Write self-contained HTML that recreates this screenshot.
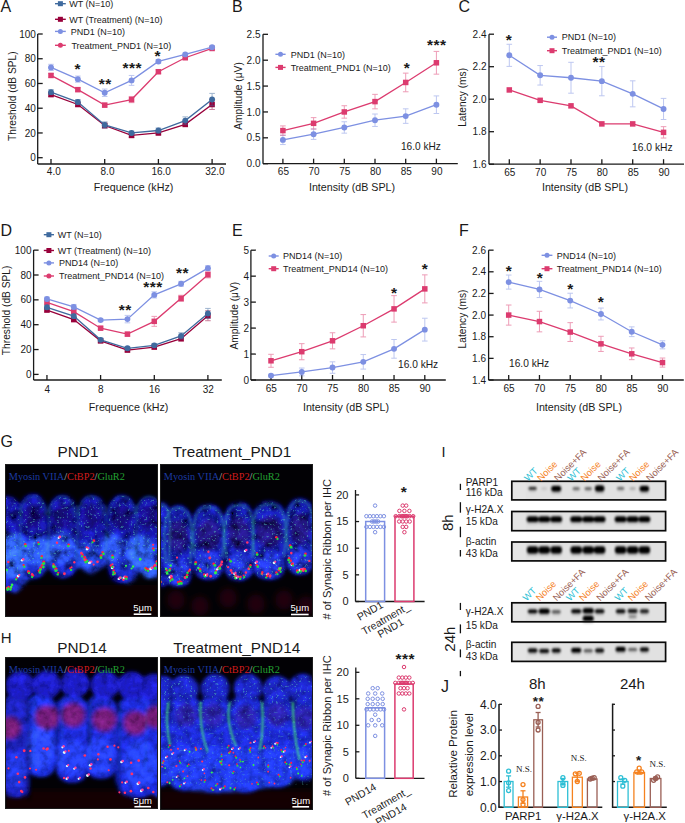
<!DOCTYPE html>
<html><head><meta charset="utf-8"><style>
html,body{margin:0;padding:0;background:#fff;}
svg{display:block;}
svg text{font-family:"Liberation Sans",sans-serif;}
svg text.serif{font-family:"Liberation Serif",serif;}
</style></head><body>
<svg width="685" height="823" viewBox="0 0 685 823">
<defs><filter id="b3" x="-20%" y="-20%" width="140%" height="140%"><feGaussianBlur stdDeviation="3"/></filter><filter id="b2" x="-20%" y="-20%" width="140%" height="140%"><feGaussianBlur stdDeviation="2"/></filter><filter id="b1" x="-20%" y="-20%" width="140%" height="140%"><feGaussianBlur stdDeviation="0.9"/></filter><filter id="b05" x="-50%" y="-50%" width="200%" height="200%"><feGaussianBlur stdDeviation="0.45"/></filter><filter id="tex" filterUnits="userSpaceOnUse" x="0" y="420" width="320" height="403"><feGaussianBlur in="SourceGraphic" stdDeviation="2.2" result="b"/><feTurbulence type="fractalNoise" baseFrequency="0.1" numOctaves="4" seed="5" result="n"/><feColorMatrix in="n" type="matrix" values="1 0 0 0 0  1 0 0 0 0  1 0 0 0 0  0 0 0 0 1" result="g"/><feComposite in="b" in2="g" operator="arithmetic" k1="2.5" k2="-0.25" k3="0" k4="0"/></filter><filter id="tex2" filterUnits="userSpaceOnUse" x="0" y="420" width="320" height="403"><feGaussianBlur in="SourceGraphic" stdDeviation="2.2" result="b"/><feTurbulence type="fractalNoise" baseFrequency="0.12" numOctaves="4" seed="8" result="n"/><feColorMatrix in="n" type="matrix" values="1 0 0 0 0  1 0 0 0 0  1 0 0 0 0  0 0 0 0 1" result="g"/><feComposite in="b" in2="g" operator="arithmetic" k1="1.5" k2="0.28" k3="0" k4="0"/></filter><filter id="speck" filterUnits="userSpaceOnUse" x="0" y="420" width="320" height="403"><feTurbulence type="fractalNoise" baseFrequency="0.42" numOctaves="2" seed="11" result="n"/><feColorMatrix in="n" type="matrix" values="0 0 0 0 0.1  0 0 0 0 0.62  0 0 0 0 0.5  8 0 0 0 -5.0" result="c"/><feComposite in="c" in2="SourceAlpha" operator="in" result="m"/><feGaussianBlur in="m" stdDeviation="0.6"/></filter><filter id="b5" x="-30%" y="-30%" width="160%" height="160%"><feGaussianBlur stdDeviation="5"/></filter><clipPath id="clip1"><rect x="5" y="464" width="153" height="153"/></clipPath><clipPath id="clip2"><rect x="160" y="464" width="153" height="153"/></clipPath><clipPath id="clip3"><rect x="5" y="657" width="153" height="152"/></clipPath><clipPath id="clip4"><rect x="160" y="657" width="153" height="153"/></clipPath></defs>
<rect width="685" height="823" fill="#fff"/>
<g>
<text x="0.50" y="11.80" font-size="16" text-anchor="start" fill="#1a1a1a" >A</text>
<line x1="37.70" y1="34.00" x2="37.70" y2="164.00" stroke="#1a1a1a" stroke-width="1.3" />
<line x1="37.70" y1="164.00" x2="226.00" y2="164.00" stroke="#1a1a1a" stroke-width="1.3" />
<line x1="37.70" y1="157.70" x2="42.70" y2="157.70" stroke="#1a1a1a" stroke-width="1.3" />
<text x="35.90" y="161.30" font-size="10" text-anchor="end" fill="#1a1a1a" >0</text>
<line x1="37.70" y1="132.96" x2="42.70" y2="132.96" stroke="#1a1a1a" stroke-width="1.3" />
<text x="35.90" y="136.56" font-size="10" text-anchor="end" fill="#1a1a1a" >20</text>
<line x1="37.70" y1="108.22" x2="42.70" y2="108.22" stroke="#1a1a1a" stroke-width="1.3" />
<text x="35.90" y="111.82" font-size="10" text-anchor="end" fill="#1a1a1a" >40</text>
<line x1="37.70" y1="83.48" x2="42.70" y2="83.48" stroke="#1a1a1a" stroke-width="1.3" />
<text x="35.90" y="87.08" font-size="10" text-anchor="end" fill="#1a1a1a" >60</text>
<line x1="37.70" y1="58.74" x2="42.70" y2="58.74" stroke="#1a1a1a" stroke-width="1.3" />
<text x="35.90" y="62.34" font-size="10" text-anchor="end" fill="#1a1a1a" >80</text>
<line x1="37.70" y1="34.00" x2="42.70" y2="34.00" stroke="#1a1a1a" stroke-width="1.3" />
<text x="35.90" y="37.60" font-size="10" text-anchor="end" fill="#1a1a1a" >100</text>
<line x1="51.00" y1="164.00" x2="51.00" y2="159.00" stroke="#1a1a1a" stroke-width="1.3" />
<text x="53.80" y="174.80" font-size="10" text-anchor="middle" fill="#1a1a1a" >4.0</text>
<line x1="104.70" y1="164.00" x2="104.70" y2="159.00" stroke="#1a1a1a" stroke-width="1.3" />
<text x="107.50" y="174.80" font-size="10" text-anchor="middle" fill="#1a1a1a" >8.0</text>
<line x1="158.40" y1="164.00" x2="158.40" y2="159.00" stroke="#1a1a1a" stroke-width="1.3" />
<text x="161.20" y="174.80" font-size="10" text-anchor="middle" fill="#1a1a1a" >16.0</text>
<line x1="212.10" y1="164.00" x2="212.10" y2="159.00" stroke="#1a1a1a" stroke-width="1.3" />
<text x="214.90" y="174.80" font-size="10" text-anchor="middle" fill="#1a1a1a" >32.0</text>
<g stroke="#98003a" stroke-width="1.0" opacity="0.5"><line x1="51.00" y1="92.76" x2="51.00" y2="96.47"/><line x1="48.20" y1="92.76" x2="53.80" y2="92.76"/><line x1="48.20" y1="96.47" x2="53.80" y2="96.47"/></g>
<g stroke="#98003a" stroke-width="1.0" opacity="0.5"><line x1="77.85" y1="102.65" x2="77.85" y2="106.36"/><line x1="75.05" y1="102.65" x2="80.65" y2="102.65"/><line x1="75.05" y1="106.36" x2="80.65" y2="106.36"/></g>
<g stroke="#98003a" stroke-width="1.0" opacity="0.5"><line x1="104.70" y1="123.06" x2="104.70" y2="128.01"/><line x1="101.90" y1="123.06" x2="107.50" y2="123.06"/><line x1="101.90" y1="128.01" x2="107.50" y2="128.01"/></g>
<g stroke="#98003a" stroke-width="1.0" opacity="0.5"><line x1="131.55" y1="133.58" x2="131.55" y2="137.29"/><line x1="128.75" y1="133.58" x2="134.35" y2="133.58"/><line x1="128.75" y1="137.29" x2="134.35" y2="137.29"/></g>
<g stroke="#98003a" stroke-width="1.0" opacity="0.5"><line x1="158.40" y1="131.10" x2="158.40" y2="134.82"/><line x1="155.60" y1="131.10" x2="161.20" y2="131.10"/><line x1="155.60" y1="134.82" x2="161.20" y2="134.82"/></g>
<g stroke="#98003a" stroke-width="1.0" opacity="0.5"><line x1="185.25" y1="121.83" x2="185.25" y2="126.77"/><line x1="182.45" y1="121.83" x2="188.05" y2="121.83"/><line x1="182.45" y1="126.77" x2="188.05" y2="126.77"/></g>
<g stroke="#98003a" stroke-width="1.0" opacity="0.5"><line x1="212.10" y1="99.56" x2="212.10" y2="109.46"/><line x1="209.30" y1="99.56" x2="214.90" y2="99.56"/><line x1="209.30" y1="109.46" x2="214.90" y2="109.46"/></g>
<polyline points="51.00,94.61 77.85,104.51 104.70,125.54 131.55,135.43 158.40,132.96 185.25,124.30 212.10,104.51" fill="none" stroke="#98003a" stroke-width="1.3"/>
<rect x="48.25" y="91.86" width="5.5" height="5.5" fill="#98003a"/>
<rect x="75.10" y="101.76" width="5.5" height="5.5" fill="#98003a"/>
<rect x="101.95" y="122.79" width="5.5" height="5.5" fill="#98003a"/>
<rect x="128.80" y="132.68" width="5.5" height="5.5" fill="#98003a"/>
<rect x="155.65" y="130.21" width="5.5" height="5.5" fill="#98003a"/>
<rect x="182.50" y="121.55" width="5.5" height="5.5" fill="#98003a"/>
<rect x="209.35" y="101.76" width="5.5" height="5.5" fill="#98003a"/>
<g stroke="#dc3b6f" stroke-width="1.0" opacity="0.5"><line x1="51.00" y1="73.58" x2="51.00" y2="77.29"/><line x1="48.20" y1="73.58" x2="53.80" y2="73.58"/><line x1="48.20" y1="77.29" x2="53.80" y2="77.29"/></g>
<g stroke="#dc3b6f" stroke-width="1.0" opacity="0.5"><line x1="77.85" y1="87.81" x2="77.85" y2="91.52"/><line x1="75.05" y1="87.81" x2="80.65" y2="87.81"/><line x1="75.05" y1="91.52" x2="80.65" y2="91.52"/></g>
<g stroke="#dc3b6f" stroke-width="1.0" opacity="0.5"><line x1="104.70" y1="103.27" x2="104.70" y2="106.98"/><line x1="101.90" y1="103.27" x2="107.50" y2="103.27"/><line x1="101.90" y1="106.98" x2="107.50" y2="106.98"/></g>
<g stroke="#dc3b6f" stroke-width="1.0" opacity="0.5"><line x1="131.55" y1="96.47" x2="131.55" y2="102.65"/><line x1="128.75" y1="96.47" x2="134.35" y2="96.47"/><line x1="128.75" y1="102.65" x2="134.35" y2="102.65"/></g>
<g stroke="#dc3b6f" stroke-width="1.0" opacity="0.5"><line x1="158.40" y1="69.87" x2="158.40" y2="73.58"/><line x1="155.60" y1="69.87" x2="161.20" y2="69.87"/><line x1="155.60" y1="73.58" x2="161.20" y2="73.58"/></g>
<g stroke="#dc3b6f" stroke-width="1.0" opacity="0.5"><line x1="185.25" y1="56.51" x2="185.25" y2="58.99"/><line x1="182.45" y1="56.51" x2="188.05" y2="56.51"/><line x1="182.45" y1="58.99" x2="188.05" y2="58.99"/></g>
<g stroke="#dc3b6f" stroke-width="1.0" opacity="0.5"><line x1="212.10" y1="47.24" x2="212.10" y2="49.71"/><line x1="209.30" y1="47.24" x2="214.90" y2="47.24"/><line x1="209.30" y1="49.71" x2="214.90" y2="49.71"/></g>
<polyline points="51.00,75.44 77.85,89.66 104.70,105.13 131.55,99.56 158.40,71.73 185.25,57.75 212.10,48.47" fill="none" stroke="#dc3b6f" stroke-width="1.3"/>
<rect x="48.25" y="72.69" width="5.5" height="5.5" fill="#dc3b6f"/>
<rect x="75.10" y="86.91" width="5.5" height="5.5" fill="#dc3b6f"/>
<rect x="101.95" y="102.38" width="5.5" height="5.5" fill="#dc3b6f"/>
<rect x="128.80" y="96.81" width="5.5" height="5.5" fill="#dc3b6f"/>
<rect x="155.65" y="68.98" width="5.5" height="5.5" fill="#dc3b6f"/>
<rect x="182.50" y="55.00" width="5.5" height="5.5" fill="#dc3b6f"/>
<rect x="209.35" y="45.72" width="5.5" height="5.5" fill="#dc3b6f"/>
<g stroke="#3f6a9e" stroke-width="1.0" opacity="0.5"><line x1="51.00" y1="89.66" x2="51.00" y2="94.61"/><line x1="48.20" y1="89.66" x2="53.80" y2="89.66"/><line x1="48.20" y1="94.61" x2="53.80" y2="94.61"/></g>
<g stroke="#3f6a9e" stroke-width="1.0" opacity="0.5"><line x1="77.85" y1="99.56" x2="77.85" y2="104.51"/><line x1="75.05" y1="99.56" x2="80.65" y2="99.56"/><line x1="75.05" y1="104.51" x2="80.65" y2="104.51"/></g>
<g stroke="#3f6a9e" stroke-width="1.0" opacity="0.5"><line x1="104.70" y1="121.83" x2="104.70" y2="128.01"/><line x1="101.90" y1="121.83" x2="107.50" y2="121.83"/><line x1="101.90" y1="128.01" x2="107.50" y2="128.01"/></g>
<g stroke="#3f6a9e" stroke-width="1.0" opacity="0.5"><line x1="131.55" y1="131.10" x2="131.55" y2="134.82"/><line x1="128.75" y1="131.10" x2="134.35" y2="131.10"/><line x1="128.75" y1="134.82" x2="134.35" y2="134.82"/></g>
<g stroke="#3f6a9e" stroke-width="1.0" opacity="0.5"><line x1="158.40" y1="128.01" x2="158.40" y2="132.96"/><line x1="155.60" y1="128.01" x2="161.20" y2="128.01"/><line x1="155.60" y1="132.96" x2="161.20" y2="132.96"/></g>
<g stroke="#3f6a9e" stroke-width="1.0" opacity="0.5"><line x1="185.25" y1="116.88" x2="185.25" y2="124.30"/><line x1="182.45" y1="116.88" x2="188.05" y2="116.88"/><line x1="182.45" y1="124.30" x2="188.05" y2="124.30"/></g>
<g stroke="#3f6a9e" stroke-width="1.0" opacity="0.5"><line x1="212.10" y1="93.38" x2="212.10" y2="105.75"/><line x1="209.30" y1="93.38" x2="214.90" y2="93.38"/><line x1="209.30" y1="105.75" x2="214.90" y2="105.75"/></g>
<polyline points="51.00,92.14 77.85,102.03 104.70,124.92 131.55,132.96 158.40,130.49 185.25,120.59 212.10,99.56" fill="none" stroke="#3f6a9e" stroke-width="1.3"/>
<circle cx="51.00" cy="92.14" r="2.95" fill="#3f6a9e"/>
<circle cx="77.85" cy="102.03" r="2.95" fill="#3f6a9e"/>
<circle cx="104.70" cy="124.92" r="2.95" fill="#3f6a9e"/>
<circle cx="131.55" cy="132.96" r="2.95" fill="#3f6a9e"/>
<circle cx="158.40" cy="130.49" r="2.95" fill="#3f6a9e"/>
<circle cx="185.25" cy="120.59" r="2.95" fill="#3f6a9e"/>
<circle cx="212.10" cy="99.56" r="2.95" fill="#3f6a9e"/>
<g stroke="#7d90e2" stroke-width="1.0" opacity="0.5"><line x1="51.00" y1="64.31" x2="51.00" y2="70.49"/><line x1="48.20" y1="64.31" x2="53.80" y2="64.31"/><line x1="48.20" y1="70.49" x2="53.80" y2="70.49"/></g>
<g stroke="#7d90e2" stroke-width="1.0" opacity="0.5"><line x1="77.85" y1="76.06" x2="77.85" y2="82.24"/><line x1="75.05" y1="76.06" x2="80.65" y2="76.06"/><line x1="75.05" y1="82.24" x2="80.65" y2="82.24"/></g>
<g stroke="#7d90e2" stroke-width="1.0" opacity="0.5"><line x1="104.70" y1="89.05" x2="104.70" y2="96.47"/><line x1="101.90" y1="89.05" x2="107.50" y2="89.05"/><line x1="101.90" y1="96.47" x2="107.50" y2="96.47"/></g>
<g stroke="#7d90e2" stroke-width="1.0" opacity="0.5"><line x1="131.55" y1="75.44" x2="131.55" y2="85.34"/><line x1="128.75" y1="75.44" x2="134.35" y2="75.44"/><line x1="128.75" y1="85.34" x2="134.35" y2="85.34"/></g>
<g stroke="#7d90e2" stroke-width="1.0" opacity="0.5"><line x1="158.40" y1="59.61" x2="158.40" y2="63.32"/><line x1="155.60" y1="59.61" x2="161.20" y2="59.61"/><line x1="155.60" y1="63.32" x2="161.20" y2="63.32"/></g>
<g stroke="#7d90e2" stroke-width="1.0" opacity="0.5"><line x1="185.25" y1="53.17" x2="185.25" y2="55.65"/><line x1="182.45" y1="53.17" x2="188.05" y2="53.17"/><line x1="182.45" y1="55.65" x2="188.05" y2="55.65"/></g>
<g stroke="#7d90e2" stroke-width="1.0" opacity="0.5"><line x1="212.10" y1="46.00" x2="212.10" y2="48.47"/><line x1="209.30" y1="46.00" x2="214.90" y2="46.00"/><line x1="209.30" y1="48.47" x2="214.90" y2="48.47"/></g>
<polyline points="51.00,67.40 77.85,79.15 104.70,92.76 131.55,80.39 158.40,61.46 185.25,54.41 212.10,47.24" fill="none" stroke="#7d90e2" stroke-width="1.3"/>
<circle cx="51.00" cy="67.40" r="2.95" fill="#7d90e2"/>
<circle cx="77.85" cy="79.15" r="2.95" fill="#7d90e2"/>
<circle cx="104.70" cy="92.76" r="2.95" fill="#7d90e2"/>
<circle cx="131.55" cy="80.39" r="2.95" fill="#7d90e2"/>
<circle cx="158.40" cy="61.46" r="2.95" fill="#7d90e2"/>
<circle cx="185.25" cy="54.41" r="2.95" fill="#7d90e2"/>
<circle cx="212.10" cy="47.24" r="2.95" fill="#7d90e2"/>
<line x1="55.00" y1="3.70" x2="65.80" y2="3.70" stroke="#3f6a9e" stroke-width="1.4" />
<rect x="57.90" y="1.20" width="5.0" height="5.0" fill="#3f6a9e"/>
<text x="69.20" y="6.90" font-size="9" text-anchor="start" fill="#1a1a1a" >WT (N=10)</text>
<line x1="55.00" y1="19.30" x2="65.80" y2="19.30" stroke="#98003a" stroke-width="1.4" />
<rect x="57.90" y="16.80" width="5.0" height="5.0" fill="#98003a"/>
<text x="69.20" y="22.50" font-size="9" text-anchor="start" fill="#1a1a1a" >WT (Treatment) (N=10)</text>
<line x1="55.00" y1="31.40" x2="65.80" y2="31.40" stroke="#7d90e2" stroke-width="1.4" />
<circle cx="60.40" cy="31.40" r="2.5" fill="#7d90e2"/>
<text x="70.70" y="34.60" font-size="9" text-anchor="start" fill="#1a1a1a" >PND1 (N=10)</text>
<line x1="55.00" y1="45.30" x2="65.80" y2="45.30" stroke="#dc3b6f" stroke-width="1.4" />
<circle cx="60.40" cy="45.30" r="2.5" fill="#dc3b6f"/>
<text x="71.40" y="48.50" font-size="9" text-anchor="start" fill="#1a1a1a" >Treatment_PND1 (N=10)</text>
<text x="77.80" y="74.46" font-size="15.5" text-anchor="middle" fill="#1a1a1a" letter-spacing="0.5" font-weight="bold">*</text>
<text x="105.30" y="88.56" font-size="15.5" text-anchor="middle" fill="#1a1a1a" letter-spacing="0.5" font-weight="bold">**</text>
<text x="132.30" y="73.26" font-size="15.5" text-anchor="middle" fill="#1a1a1a" letter-spacing="0.5" font-weight="bold">***</text>
<text x="157.80" y="60.76" font-size="15.5" text-anchor="middle" fill="#1a1a1a" letter-spacing="0.5" font-weight="bold">*</text>
<text x="133.50" y="191.10" font-size="10.7" text-anchor="middle" fill="#1a1a1a" >Frequence (kHz)</text>
<text x="0.00" y="0.00" font-size="10.2" text-anchor="middle" fill="#1a1a1a" transform="translate(15.6,96.2) rotate(-90)">Threshold (dB SPL)</text>
</g>
<g>
<text x="232.00" y="11.80" font-size="16" text-anchor="start" fill="#1a1a1a" >B</text>
<line x1="263.00" y1="34.20" x2="263.00" y2="163.70" stroke="#1a1a1a" stroke-width="1.3" />
<line x1="263.00" y1="163.70" x2="457.80" y2="163.70" stroke="#1a1a1a" stroke-width="1.3" />
<line x1="263.00" y1="163.70" x2="268.00" y2="163.70" stroke="#1a1a1a" stroke-width="1.3" />
<text x="260.50" y="167.30" font-size="10" text-anchor="end" fill="#1a1a1a" >0.0</text>
<line x1="263.00" y1="137.82" x2="268.00" y2="137.82" stroke="#1a1a1a" stroke-width="1.3" />
<text x="260.50" y="141.42" font-size="10" text-anchor="end" fill="#1a1a1a" >0.5</text>
<line x1="263.00" y1="111.95" x2="268.00" y2="111.95" stroke="#1a1a1a" stroke-width="1.3" />
<text x="260.50" y="115.55" font-size="10" text-anchor="end" fill="#1a1a1a" >1.0</text>
<line x1="263.00" y1="86.07" x2="268.00" y2="86.07" stroke="#1a1a1a" stroke-width="1.3" />
<text x="260.50" y="89.67" font-size="10" text-anchor="end" fill="#1a1a1a" >1.5</text>
<line x1="263.00" y1="60.20" x2="268.00" y2="60.20" stroke="#1a1a1a" stroke-width="1.3" />
<text x="260.50" y="63.80" font-size="10" text-anchor="end" fill="#1a1a1a" >2.0</text>
<line x1="263.00" y1="34.32" x2="268.00" y2="34.32" stroke="#1a1a1a" stroke-width="1.3" />
<text x="260.50" y="37.92" font-size="10" text-anchor="end" fill="#1a1a1a" >2.5</text>
<line x1="282.90" y1="163.70" x2="282.90" y2="158.70" stroke="#1a1a1a" stroke-width="1.3" />
<text x="283.40" y="175.20" font-size="10" text-anchor="middle" fill="#1a1a1a" >65</text>
<line x1="313.60" y1="163.70" x2="313.60" y2="158.70" stroke="#1a1a1a" stroke-width="1.3" />
<text x="314.10" y="175.20" font-size="10" text-anchor="middle" fill="#1a1a1a" >70</text>
<line x1="344.30" y1="163.70" x2="344.30" y2="158.70" stroke="#1a1a1a" stroke-width="1.3" />
<text x="344.80" y="175.20" font-size="10" text-anchor="middle" fill="#1a1a1a" >75</text>
<line x1="375.00" y1="163.70" x2="375.00" y2="158.70" stroke="#1a1a1a" stroke-width="1.3" />
<text x="375.50" y="175.20" font-size="10" text-anchor="middle" fill="#1a1a1a" >80</text>
<line x1="405.70" y1="163.70" x2="405.70" y2="158.70" stroke="#1a1a1a" stroke-width="1.3" />
<text x="406.20" y="175.20" font-size="10" text-anchor="middle" fill="#1a1a1a" >85</text>
<line x1="436.40" y1="163.70" x2="436.40" y2="158.70" stroke="#1a1a1a" stroke-width="1.3" />
<text x="436.90" y="175.20" font-size="10" text-anchor="middle" fill="#1a1a1a" >90</text>
<g stroke="#7d90e2" stroke-width="1.0" opacity="0.5"><line x1="282.90" y1="135.24" x2="282.90" y2="144.55"/><line x1="280.10" y1="135.24" x2="285.70" y2="135.24"/><line x1="280.10" y1="144.55" x2="285.70" y2="144.55"/></g>
<g stroke="#7d90e2" stroke-width="1.0" opacity="0.5"><line x1="313.60" y1="129.03" x2="313.60" y2="139.38"/><line x1="310.80" y1="129.03" x2="316.40" y2="129.03"/><line x1="310.80" y1="139.38" x2="316.40" y2="139.38"/></g>
<g stroke="#7d90e2" stroke-width="1.0" opacity="0.5"><line x1="344.30" y1="121.78" x2="344.30" y2="133.17"/><line x1="341.50" y1="121.78" x2="347.10" y2="121.78"/><line x1="341.50" y1="133.17" x2="347.10" y2="133.17"/></g>
<g stroke="#7d90e2" stroke-width="1.0" opacity="0.5"><line x1="375.00" y1="114.02" x2="375.00" y2="126.44"/><line x1="372.20" y1="114.02" x2="377.80" y2="114.02"/><line x1="372.20" y1="126.44" x2="377.80" y2="126.44"/></g>
<g stroke="#7d90e2" stroke-width="1.0" opacity="0.5"><line x1="405.70" y1="108.84" x2="405.70" y2="123.33"/><line x1="402.90" y1="108.84" x2="408.50" y2="108.84"/><line x1="402.90" y1="123.33" x2="408.50" y2="123.33"/></g>
<g stroke="#7d90e2" stroke-width="1.0" opacity="0.5"><line x1="436.40" y1="95.91" x2="436.40" y2="113.50"/><line x1="433.60" y1="95.91" x2="439.20" y2="95.91"/><line x1="433.60" y1="113.50" x2="439.20" y2="113.50"/></g>
<polyline points="282.90,139.89 313.60,134.20 344.30,127.47 375.00,120.23 405.70,116.09 436.40,104.70" fill="none" stroke="#7d90e2" stroke-width="1.3"/>
<circle cx="282.90" cy="139.89" r="2.95" fill="#7d90e2"/>
<circle cx="313.60" cy="134.20" r="2.95" fill="#7d90e2"/>
<circle cx="344.30" cy="127.47" r="2.95" fill="#7d90e2"/>
<circle cx="375.00" cy="120.23" r="2.95" fill="#7d90e2"/>
<circle cx="405.70" cy="116.09" r="2.95" fill="#7d90e2"/>
<circle cx="436.40" cy="104.70" r="2.95" fill="#7d90e2"/>
<g stroke="#dc3b6f" stroke-width="1.0" opacity="0.5"><line x1="282.90" y1="125.92" x2="282.90" y2="135.24"/><line x1="280.10" y1="125.92" x2="285.70" y2="125.92"/><line x1="280.10" y1="135.24" x2="285.70" y2="135.24"/></g>
<g stroke="#dc3b6f" stroke-width="1.0" opacity="0.5"><line x1="313.60" y1="117.64" x2="313.60" y2="129.03"/><line x1="310.80" y1="117.64" x2="316.40" y2="117.64"/><line x1="310.80" y1="129.03" x2="316.40" y2="129.03"/></g>
<g stroke="#dc3b6f" stroke-width="1.0" opacity="0.5"><line x1="344.30" y1="105.74" x2="344.30" y2="118.16"/><line x1="341.50" y1="105.74" x2="347.10" y2="105.74"/><line x1="341.50" y1="118.16" x2="347.10" y2="118.16"/></g>
<g stroke="#dc3b6f" stroke-width="1.0" opacity="0.5"><line x1="375.00" y1="94.35" x2="375.00" y2="108.84"/><line x1="372.20" y1="94.35" x2="377.80" y2="94.35"/><line x1="372.20" y1="108.84" x2="377.80" y2="108.84"/></g>
<g stroke="#dc3b6f" stroke-width="1.0" opacity="0.5"><line x1="405.70" y1="73.14" x2="405.70" y2="91.77"/><line x1="402.90" y1="73.14" x2="408.50" y2="73.14"/><line x1="402.90" y1="91.77" x2="408.50" y2="91.77"/></g>
<g stroke="#dc3b6f" stroke-width="1.0" opacity="0.5"><line x1="436.40" y1="51.40" x2="436.40" y2="74.17"/><line x1="433.60" y1="51.40" x2="439.20" y2="51.40"/><line x1="433.60" y1="74.17" x2="439.20" y2="74.17"/></g>
<polyline points="282.90,130.58 313.60,123.33 344.30,111.95 375.00,101.60 405.70,82.45 436.40,62.79" fill="none" stroke="#dc3b6f" stroke-width="1.3"/>
<rect x="280.15" y="127.83" width="5.5" height="5.5" fill="#dc3b6f"/>
<rect x="310.85" y="120.58" width="5.5" height="5.5" fill="#dc3b6f"/>
<rect x="341.55" y="109.20" width="5.5" height="5.5" fill="#dc3b6f"/>
<rect x="372.25" y="98.85" width="5.5" height="5.5" fill="#dc3b6f"/>
<rect x="402.95" y="79.70" width="5.5" height="5.5" fill="#dc3b6f"/>
<rect x="433.65" y="60.04" width="5.5" height="5.5" fill="#dc3b6f"/>
<line x1="275.40" y1="54.30" x2="285.60" y2="54.30" stroke="#7d90e2" stroke-width="1.4" />
<circle cx="280.50" cy="54.30" r="2.5" fill="#7d90e2"/>
<text x="290.70" y="57.50" font-size="9" text-anchor="start" fill="#1a1a1a" >PND1 (N=10)</text>
<line x1="275.40" y1="67.40" x2="285.60" y2="67.40" stroke="#dc3b6f" stroke-width="1.4" />
<rect x="278.00" y="64.90" width="5.0" height="5.0" fill="#dc3b6f"/>
<text x="290.70" y="70.60" font-size="9" text-anchor="start" fill="#1a1a1a" >Treatment_PND1 (N=10)</text>
<text x="407.00" y="73.46" font-size="15.5" text-anchor="middle" fill="#1a1a1a" letter-spacing="0.5" font-weight="bold">*</text>
<text x="436.80" y="49.86" font-size="15.5" text-anchor="middle" fill="#1a1a1a" letter-spacing="0.5" font-weight="bold">***</text>
<text x="401.00" y="150.30" font-size="10.1" text-anchor="start" fill="#1a1a1a" >16.0 kHz</text>
<text x="352.00" y="191.30" font-size="10.7" text-anchor="middle" fill="#1a1a1a" >Intensity (dB SPL)</text>
<text x="0.00" y="0.00" font-size="10.2" text-anchor="middle" fill="#1a1a1a" transform="translate(241.8,96) rotate(-90)">Amplitude (μV)</text>
</g>
<g>
<text x="458.50" y="11.80" font-size="16" text-anchor="start" fill="#1a1a1a" >C</text>
<line x1="489.00" y1="34.20" x2="489.00" y2="164.20" stroke="#1a1a1a" stroke-width="1.3" />
<line x1="489.00" y1="164.20" x2="684.00" y2="164.20" stroke="#1a1a1a" stroke-width="1.3" />
<line x1="489.00" y1="164.20" x2="494.00" y2="164.20" stroke="#1a1a1a" stroke-width="1.3" />
<text x="486.50" y="167.80" font-size="10" text-anchor="end" fill="#1a1a1a" >1.6</text>
<line x1="489.00" y1="131.70" x2="494.00" y2="131.70" stroke="#1a1a1a" stroke-width="1.3" />
<text x="486.50" y="135.30" font-size="10" text-anchor="end" fill="#1a1a1a" >1.8</text>
<line x1="489.00" y1="99.20" x2="494.00" y2="99.20" stroke="#1a1a1a" stroke-width="1.3" />
<text x="486.50" y="102.80" font-size="10" text-anchor="end" fill="#1a1a1a" >2.0</text>
<line x1="489.00" y1="66.70" x2="494.00" y2="66.70" stroke="#1a1a1a" stroke-width="1.3" />
<text x="486.50" y="70.30" font-size="10" text-anchor="end" fill="#1a1a1a" >2.2</text>
<line x1="489.00" y1="34.20" x2="494.00" y2="34.20" stroke="#1a1a1a" stroke-width="1.3" />
<text x="486.50" y="37.80" font-size="10" text-anchor="end" fill="#1a1a1a" >2.4</text>
<line x1="509.30" y1="164.20" x2="509.30" y2="159.20" stroke="#1a1a1a" stroke-width="1.3" />
<text x="509.80" y="176.10" font-size="10" text-anchor="middle" fill="#1a1a1a" >65</text>
<line x1="540.15" y1="164.20" x2="540.15" y2="159.20" stroke="#1a1a1a" stroke-width="1.3" />
<text x="540.65" y="176.10" font-size="10" text-anchor="middle" fill="#1a1a1a" >70</text>
<line x1="571.00" y1="164.20" x2="571.00" y2="159.20" stroke="#1a1a1a" stroke-width="1.3" />
<text x="571.50" y="176.10" font-size="10" text-anchor="middle" fill="#1a1a1a" >75</text>
<line x1="601.85" y1="164.20" x2="601.85" y2="159.20" stroke="#1a1a1a" stroke-width="1.3" />
<text x="602.35" y="176.10" font-size="10" text-anchor="middle" fill="#1a1a1a" >80</text>
<line x1="632.70" y1="164.20" x2="632.70" y2="159.20" stroke="#1a1a1a" stroke-width="1.3" />
<text x="633.20" y="176.10" font-size="10" text-anchor="middle" fill="#1a1a1a" >85</text>
<line x1="663.55" y1="164.20" x2="663.55" y2="159.20" stroke="#1a1a1a" stroke-width="1.3" />
<text x="664.05" y="176.10" font-size="10" text-anchor="middle" fill="#1a1a1a" >90</text>
<g stroke="#7d90e2" stroke-width="1.0" opacity="0.5"><line x1="509.30" y1="44.27" x2="509.30" y2="66.38"/><line x1="506.50" y1="44.27" x2="512.10" y2="44.27"/><line x1="506.50" y1="66.38" x2="512.10" y2="66.38"/></g>
<g stroke="#7d90e2" stroke-width="1.0" opacity="0.5"><line x1="540.15" y1="65.56" x2="540.15" y2="85.06"/><line x1="537.35" y1="65.56" x2="542.95" y2="65.56"/><line x1="537.35" y1="85.06" x2="542.95" y2="85.06"/></g>
<g stroke="#7d90e2" stroke-width="1.0" opacity="0.5"><line x1="571.00" y1="62.31" x2="571.00" y2="93.19"/><line x1="568.20" y1="62.31" x2="573.80" y2="62.31"/><line x1="568.20" y1="93.19" x2="573.80" y2="93.19"/></g>
<g stroke="#7d90e2" stroke-width="1.0" opacity="0.5"><line x1="601.85" y1="66.54" x2="601.85" y2="95.79"/><line x1="599.05" y1="66.54" x2="604.65" y2="66.54"/><line x1="599.05" y1="95.79" x2="604.65" y2="95.79"/></g>
<g stroke="#7d90e2" stroke-width="1.0" opacity="0.5"><line x1="632.70" y1="80.84" x2="632.70" y2="106.84"/><line x1="629.90" y1="80.84" x2="635.50" y2="80.84"/><line x1="629.90" y1="106.84" x2="635.50" y2="106.84"/></g>
<g stroke="#7d90e2" stroke-width="1.0" opacity="0.5"><line x1="663.55" y1="98.39" x2="663.55" y2="119.51"/><line x1="660.75" y1="98.39" x2="666.35" y2="98.39"/><line x1="660.75" y1="119.51" x2="666.35" y2="119.51"/></g>
<polyline points="509.30,55.32 540.15,75.31 571.00,77.75 601.85,81.16 632.70,93.84 663.55,108.95" fill="none" stroke="#7d90e2" stroke-width="1.3"/>
<circle cx="509.30" cy="55.32" r="2.95" fill="#7d90e2"/>
<circle cx="540.15" cy="75.31" r="2.95" fill="#7d90e2"/>
<circle cx="571.00" cy="77.75" r="2.95" fill="#7d90e2"/>
<circle cx="601.85" cy="81.16" r="2.95" fill="#7d90e2"/>
<circle cx="632.70" cy="93.84" r="2.95" fill="#7d90e2"/>
<circle cx="663.55" cy="108.95" r="2.95" fill="#7d90e2"/>
<g stroke="#dc3b6f" stroke-width="1.0" opacity="0.5"><line x1="663.55" y1="126.66" x2="663.55" y2="138.04"/><line x1="660.75" y1="126.66" x2="666.35" y2="126.66"/><line x1="660.75" y1="138.04" x2="666.35" y2="138.04"/></g>
<polyline points="509.30,89.94 540.15,100.34 571.00,105.86 601.85,123.90 632.70,123.90 663.55,132.35" fill="none" stroke="#dc3b6f" stroke-width="1.3"/>
<rect x="506.55" y="87.19" width="5.5" height="5.5" fill="#dc3b6f"/>
<rect x="537.40" y="97.59" width="5.5" height="5.5" fill="#dc3b6f"/>
<rect x="568.25" y="103.11" width="5.5" height="5.5" fill="#dc3b6f"/>
<rect x="599.10" y="121.15" width="5.5" height="5.5" fill="#dc3b6f"/>
<rect x="629.95" y="121.15" width="5.5" height="5.5" fill="#dc3b6f"/>
<rect x="660.80" y="129.60" width="5.5" height="5.5" fill="#dc3b6f"/>
<line x1="547.00" y1="37.20" x2="557.00" y2="37.20" stroke="#7d90e2" stroke-width="1.4" />
<circle cx="552.00" cy="37.20" r="2.5" fill="#7d90e2"/>
<text x="561.80" y="40.40" font-size="9" text-anchor="start" fill="#1a1a1a" >PND1 (N=10)</text>
<line x1="547.00" y1="50.70" x2="557.00" y2="50.70" stroke="#dc3b6f" stroke-width="1.4" />
<rect x="549.50" y="48.20" width="5.0" height="5.0" fill="#dc3b6f"/>
<text x="561.80" y="53.90" font-size="9" text-anchor="start" fill="#1a1a1a" >Treatment_PND1 (N=10)</text>
<text x="509.00" y="45.46" font-size="15.5" text-anchor="middle" fill="#1a1a1a" letter-spacing="0.5" font-weight="bold">*</text>
<text x="599.00" y="67.06" font-size="15.5" text-anchor="middle" fill="#1a1a1a" letter-spacing="0.5" font-weight="bold">**</text>
<text x="632.00" y="151.30" font-size="10.3" text-anchor="start" fill="#1a1a1a" >16.0 kHz</text>
<text x="585.00" y="191.30" font-size="10.7" text-anchor="middle" fill="#1a1a1a" >Intensity (dB SPL)</text>
<text x="0.00" y="0.00" font-size="10.2" text-anchor="middle" fill="#1a1a1a" transform="translate(466,97.4) rotate(-90)">Latency (ms)</text>
</g>
<g>
<text x="0.50" y="236.00" font-size="16" text-anchor="start" fill="#1a1a1a" >D</text>
<line x1="33.60" y1="250.00" x2="33.60" y2="380.00" stroke="#1a1a1a" stroke-width="1.3" />
<line x1="33.60" y1="380.00" x2="221.80" y2="380.00" stroke="#1a1a1a" stroke-width="1.3" />
<line x1="33.60" y1="374.40" x2="38.60" y2="374.40" stroke="#1a1a1a" stroke-width="1.3" />
<text x="31.50" y="378.00" font-size="10" text-anchor="end" fill="#1a1a1a" >0</text>
<line x1="33.60" y1="349.55" x2="38.60" y2="349.55" stroke="#1a1a1a" stroke-width="1.3" />
<text x="31.50" y="353.15" font-size="10" text-anchor="end" fill="#1a1a1a" >20</text>
<line x1="33.60" y1="324.70" x2="38.60" y2="324.70" stroke="#1a1a1a" stroke-width="1.3" />
<text x="31.50" y="328.30" font-size="10" text-anchor="end" fill="#1a1a1a" >40</text>
<line x1="33.60" y1="299.85" x2="38.60" y2="299.85" stroke="#1a1a1a" stroke-width="1.3" />
<text x="31.50" y="303.45" font-size="10" text-anchor="end" fill="#1a1a1a" >60</text>
<line x1="33.60" y1="275.00" x2="38.60" y2="275.00" stroke="#1a1a1a" stroke-width="1.3" />
<text x="31.50" y="278.60" font-size="10" text-anchor="end" fill="#1a1a1a" >80</text>
<line x1="33.60" y1="250.15" x2="38.60" y2="250.15" stroke="#1a1a1a" stroke-width="1.3" />
<text x="31.50" y="253.75" font-size="10" text-anchor="end" fill="#1a1a1a" >100</text>
<line x1="46.95" y1="380.00" x2="46.95" y2="375.00" stroke="#1a1a1a" stroke-width="1.3" />
<text x="47.25" y="392.60" font-size="10" text-anchor="middle" fill="#1a1a1a" >4</text>
<line x1="100.60" y1="380.00" x2="100.60" y2="375.00" stroke="#1a1a1a" stroke-width="1.3" />
<text x="100.90" y="392.60" font-size="10" text-anchor="middle" fill="#1a1a1a" >8</text>
<line x1="154.30" y1="380.00" x2="154.30" y2="375.00" stroke="#1a1a1a" stroke-width="1.3" />
<text x="154.60" y="392.60" font-size="10" text-anchor="middle" fill="#1a1a1a" >16</text>
<line x1="207.90" y1="380.00" x2="207.90" y2="375.00" stroke="#1a1a1a" stroke-width="1.3" />
<text x="208.20" y="392.60" font-size="10" text-anchor="middle" fill="#1a1a1a" >32</text>
<g stroke="#98003a" stroke-width="1.0" opacity="0.5"><line x1="46.95" y1="308.17" x2="46.95" y2="311.90"/><line x1="44.15" y1="308.17" x2="49.75" y2="308.17"/><line x1="44.15" y1="311.90" x2="49.75" y2="311.90"/></g>
<g stroke="#98003a" stroke-width="1.0" opacity="0.5"><line x1="73.78" y1="317.74" x2="73.78" y2="321.47"/><line x1="70.98" y1="317.74" x2="76.58" y2="317.74"/><line x1="70.98" y1="321.47" x2="76.58" y2="321.47"/></g>
<g stroke="#98003a" stroke-width="1.0" opacity="0.5"><line x1="100.61" y1="338.99" x2="100.61" y2="342.72"/><line x1="97.81" y1="338.99" x2="103.41" y2="338.99"/><line x1="97.81" y1="342.72" x2="103.41" y2="342.72"/></g>
<g stroke="#98003a" stroke-width="1.0" opacity="0.5"><line x1="127.44" y1="348.18" x2="127.44" y2="351.91"/><line x1="124.64" y1="348.18" x2="130.24" y2="348.18"/><line x1="124.64" y1="351.91" x2="130.24" y2="351.91"/></g>
<g stroke="#98003a" stroke-width="1.0" opacity="0.5"><line x1="154.27" y1="345.20" x2="154.27" y2="348.93"/><line x1="151.47" y1="345.20" x2="157.07" y2="345.20"/><line x1="151.47" y1="348.93" x2="157.07" y2="348.93"/></g>
<g stroke="#98003a" stroke-width="1.0" opacity="0.5"><line x1="181.10" y1="336.13" x2="181.10" y2="341.10"/><line x1="178.30" y1="336.13" x2="183.90" y2="336.13"/><line x1="178.30" y1="341.10" x2="183.90" y2="341.10"/></g>
<g stroke="#98003a" stroke-width="1.0" opacity="0.5"><line x1="207.93" y1="310.78" x2="207.93" y2="320.72"/><line x1="205.13" y1="310.78" x2="210.73" y2="310.78"/><line x1="205.13" y1="320.72" x2="210.73" y2="320.72"/></g>
<polyline points="46.95,310.04 73.78,319.61 100.61,340.85 127.44,350.05 154.27,347.06 181.10,338.62 207.93,315.75" fill="none" stroke="#98003a" stroke-width="1.3"/>
<rect x="44.20" y="307.29" width="5.5" height="5.5" fill="#98003a"/>
<rect x="71.03" y="316.86" width="5.5" height="5.5" fill="#98003a"/>
<rect x="97.86" y="338.10" width="5.5" height="5.5" fill="#98003a"/>
<rect x="124.69" y="347.30" width="5.5" height="5.5" fill="#98003a"/>
<rect x="151.52" y="344.31" width="5.5" height="5.5" fill="#98003a"/>
<rect x="178.35" y="335.87" width="5.5" height="5.5" fill="#98003a"/>
<rect x="205.18" y="313.00" width="5.5" height="5.5" fill="#98003a"/>
<g stroke="#dc3b6f" stroke-width="1.0" opacity="0.5"><line x1="46.95" y1="300.60" x2="46.95" y2="304.32"/><line x1="44.15" y1="300.60" x2="49.75" y2="300.60"/><line x1="44.15" y1="304.32" x2="49.75" y2="304.32"/></g>
<g stroke="#dc3b6f" stroke-width="1.0" opacity="0.5"><line x1="73.78" y1="309.79" x2="73.78" y2="313.52"/><line x1="70.98" y1="309.79" x2="76.58" y2="309.79"/><line x1="70.98" y1="313.52" x2="76.58" y2="313.52"/></g>
<g stroke="#dc3b6f" stroke-width="1.0" opacity="0.5"><line x1="100.61" y1="326.94" x2="100.61" y2="329.42"/><line x1="97.81" y1="326.94" x2="103.41" y2="326.94"/><line x1="97.81" y1="329.42" x2="103.41" y2="329.42"/></g>
<g stroke="#dc3b6f" stroke-width="1.0" opacity="0.5"><line x1="127.44" y1="332.28" x2="127.44" y2="336.01"/><line x1="124.64" y1="332.28" x2="130.24" y2="332.28"/><line x1="124.64" y1="336.01" x2="130.24" y2="336.01"/></g>
<g stroke="#dc3b6f" stroke-width="1.0" opacity="0.5"><line x1="154.27" y1="316.38" x2="154.27" y2="326.32"/><line x1="151.47" y1="316.38" x2="157.07" y2="316.38"/><line x1="151.47" y1="326.32" x2="157.07" y2="326.32"/></g>
<g stroke="#dc3b6f" stroke-width="1.0" opacity="0.5"><line x1="181.10" y1="295.25" x2="181.10" y2="301.47"/><line x1="178.30" y1="295.25" x2="183.90" y2="295.25"/><line x1="178.30" y1="301.47" x2="183.90" y2="301.47"/></g>
<g stroke="#dc3b6f" stroke-width="1.0" opacity="0.5"><line x1="207.93" y1="271.65" x2="207.93" y2="277.86"/><line x1="205.13" y1="271.65" x2="210.73" y2="271.65"/><line x1="205.13" y1="277.86" x2="210.73" y2="277.86"/></g>
<polyline points="46.95,302.46 73.78,311.65 100.61,328.18 127.44,334.14 154.27,321.35 181.10,298.36 207.93,274.75" fill="none" stroke="#dc3b6f" stroke-width="1.3"/>
<rect x="44.20" y="299.71" width="5.5" height="5.5" fill="#dc3b6f"/>
<rect x="71.03" y="308.90" width="5.5" height="5.5" fill="#dc3b6f"/>
<rect x="97.86" y="325.43" width="5.5" height="5.5" fill="#dc3b6f"/>
<rect x="124.69" y="331.39" width="5.5" height="5.5" fill="#dc3b6f"/>
<rect x="151.52" y="318.60" width="5.5" height="5.5" fill="#dc3b6f"/>
<rect x="178.35" y="295.61" width="5.5" height="5.5" fill="#dc3b6f"/>
<rect x="205.18" y="272.00" width="5.5" height="5.5" fill="#dc3b6f"/>
<g stroke="#3f6a9e" stroke-width="1.0" opacity="0.5"><line x1="46.95" y1="305.44" x2="46.95" y2="309.17"/><line x1="44.15" y1="305.44" x2="49.75" y2="305.44"/><line x1="44.15" y1="309.17" x2="49.75" y2="309.17"/></g>
<g stroke="#3f6a9e" stroke-width="1.0" opacity="0.5"><line x1="73.78" y1="314.26" x2="73.78" y2="317.99"/><line x1="70.98" y1="314.26" x2="76.58" y2="314.26"/><line x1="70.98" y1="317.99" x2="76.58" y2="317.99"/></g>
<g stroke="#3f6a9e" stroke-width="1.0" opacity="0.5"><line x1="100.61" y1="337.99" x2="100.61" y2="341.72"/><line x1="97.81" y1="337.99" x2="103.41" y2="337.99"/><line x1="97.81" y1="341.72" x2="103.41" y2="341.72"/></g>
<g stroke="#3f6a9e" stroke-width="1.0" opacity="0.5"><line x1="127.44" y1="346.44" x2="127.44" y2="350.17"/><line x1="124.64" y1="346.44" x2="130.24" y2="346.44"/><line x1="124.64" y1="350.17" x2="130.24" y2="350.17"/></g>
<g stroke="#3f6a9e" stroke-width="1.0" opacity="0.5"><line x1="154.27" y1="343.46" x2="154.27" y2="347.19"/><line x1="151.47" y1="343.46" x2="157.07" y2="343.46"/><line x1="151.47" y1="347.19" x2="157.07" y2="347.19"/></g>
<g stroke="#3f6a9e" stroke-width="1.0" opacity="0.5"><line x1="181.10" y1="332.78" x2="181.10" y2="338.99"/><line x1="178.30" y1="332.78" x2="183.90" y2="332.78"/><line x1="178.30" y1="338.99" x2="183.90" y2="338.99"/></g>
<g stroke="#3f6a9e" stroke-width="1.0" opacity="0.5"><line x1="207.93" y1="308.42" x2="207.93" y2="318.36"/><line x1="205.13" y1="308.42" x2="210.73" y2="308.42"/><line x1="205.13" y1="318.36" x2="210.73" y2="318.36"/></g>
<polyline points="46.95,307.30 73.78,316.13 100.61,339.86 127.44,348.31 154.27,345.33 181.10,335.88 207.93,313.39" fill="none" stroke="#3f6a9e" stroke-width="1.3"/>
<circle cx="46.95" cy="307.30" r="2.95" fill="#3f6a9e"/>
<circle cx="73.78" cy="316.13" r="2.95" fill="#3f6a9e"/>
<circle cx="100.61" cy="339.86" r="2.95" fill="#3f6a9e"/>
<circle cx="127.44" cy="348.31" r="2.95" fill="#3f6a9e"/>
<circle cx="154.27" cy="345.33" r="2.95" fill="#3f6a9e"/>
<circle cx="181.10" cy="335.88" r="2.95" fill="#3f6a9e"/>
<circle cx="207.93" cy="313.39" r="2.95" fill="#3f6a9e"/>
<g stroke="#7d90e2" stroke-width="1.0" opacity="0.5"><line x1="46.95" y1="297.12" x2="46.95" y2="300.84"/><line x1="44.15" y1="297.12" x2="49.75" y2="297.12"/><line x1="44.15" y1="300.84" x2="49.75" y2="300.84"/></g>
<g stroke="#7d90e2" stroke-width="1.0" opacity="0.5"><line x1="73.78" y1="304.45" x2="73.78" y2="309.42"/><line x1="70.98" y1="304.45" x2="76.58" y2="304.45"/><line x1="70.98" y1="309.42" x2="76.58" y2="309.42"/></g>
<g stroke="#7d90e2" stroke-width="1.0" opacity="0.5"><line x1="100.61" y1="318.86" x2="100.61" y2="321.35"/><line x1="97.81" y1="318.86" x2="103.41" y2="318.86"/><line x1="97.81" y1="321.35" x2="103.41" y2="321.35"/></g>
<g stroke="#7d90e2" stroke-width="1.0" opacity="0.5"><line x1="127.44" y1="315.38" x2="127.44" y2="322.84"/><line x1="124.64" y1="315.38" x2="130.24" y2="315.38"/><line x1="124.64" y1="322.84" x2="130.24" y2="322.84"/></g>
<g stroke="#7d90e2" stroke-width="1.0" opacity="0.5"><line x1="154.27" y1="291.77" x2="154.27" y2="297.99"/><line x1="151.47" y1="291.77" x2="157.07" y2="291.77"/><line x1="151.47" y1="297.99" x2="157.07" y2="297.99"/></g>
<g stroke="#7d90e2" stroke-width="1.0" opacity="0.5"><line x1="181.10" y1="281.34" x2="181.10" y2="286.31"/><line x1="178.30" y1="281.34" x2="183.90" y2="281.34"/><line x1="178.30" y1="286.31" x2="183.90" y2="286.31"/></g>
<g stroke="#7d90e2" stroke-width="1.0" opacity="0.5"><line x1="207.93" y1="265.68" x2="207.93" y2="270.65"/><line x1="205.13" y1="265.68" x2="210.73" y2="265.68"/><line x1="205.13" y1="270.65" x2="210.73" y2="270.65"/></g>
<polyline points="46.95,298.98 73.78,306.93 100.61,320.10 127.44,319.11 154.27,294.88 181.10,283.82 207.93,268.17" fill="none" stroke="#7d90e2" stroke-width="1.3"/>
<circle cx="46.95" cy="298.98" r="2.95" fill="#7d90e2"/>
<circle cx="73.78" cy="306.93" r="2.95" fill="#7d90e2"/>
<circle cx="100.61" cy="320.10" r="2.95" fill="#7d90e2"/>
<circle cx="127.44" cy="319.11" r="2.95" fill="#7d90e2"/>
<circle cx="154.27" cy="294.88" r="2.95" fill="#7d90e2"/>
<circle cx="181.10" cy="283.82" r="2.95" fill="#7d90e2"/>
<circle cx="207.93" cy="268.17" r="2.95" fill="#7d90e2"/>
<line x1="43.80" y1="234.70" x2="54.00" y2="234.70" stroke="#3f6a9e" stroke-width="1.4" />
<rect x="46.40" y="232.20" width="5.0" height="5.0" fill="#3f6a9e"/>
<text x="57.70" y="237.90" font-size="9" text-anchor="start" fill="#1a1a1a" >WT (N=10)</text>
<line x1="43.80" y1="250.50" x2="54.00" y2="250.50" stroke="#98003a" stroke-width="1.4" />
<rect x="46.40" y="248.00" width="5.0" height="5.0" fill="#98003a"/>
<text x="57.70" y="253.70" font-size="9" text-anchor="start" fill="#1a1a1a" >WT (Treatment) (N=10)</text>
<line x1="43.80" y1="262.90" x2="54.00" y2="262.90" stroke="#7d90e2" stroke-width="1.4" />
<circle cx="48.90" cy="262.90" r="2.5" fill="#7d90e2"/>
<text x="59.10" y="266.10" font-size="9" text-anchor="start" fill="#1a1a1a" >PND14 (N=10)</text>
<line x1="43.80" y1="276.00" x2="54.00" y2="276.00" stroke="#dc3b6f" stroke-width="1.4" />
<circle cx="48.90" cy="276.00" r="2.5" fill="#dc3b6f"/>
<text x="59.10" y="279.20" font-size="9" text-anchor="start" fill="#1a1a1a" >Treatment_PND14 (N=10)</text>
<text x="125.30" y="314.56" font-size="15.5" text-anchor="middle" fill="#1a1a1a" letter-spacing="0.5" font-weight="bold">**</text>
<text x="153.10" y="292.06" font-size="15.5" text-anchor="middle" fill="#1a1a1a" letter-spacing="0.5" font-weight="bold">***</text>
<text x="182.60" y="278.36" font-size="15.5" text-anchor="middle" fill="#1a1a1a" letter-spacing="0.5" font-weight="bold">**</text>
<text x="128.60" y="411.00" font-size="10.7" text-anchor="middle" fill="#1a1a1a" >Frequence (kHz)</text>
<text x="0.00" y="0.00" font-size="10.2" text-anchor="middle" fill="#1a1a1a" transform="translate(10.2,310.4) rotate(-90)">Threshold (dB SPL)</text>
</g>
<g>
<text x="232.00" y="236.00" font-size="16" text-anchor="start" fill="#1a1a1a" >E</text>
<line x1="250.90" y1="250.20" x2="250.90" y2="380.00" stroke="#1a1a1a" stroke-width="1.3" />
<line x1="250.90" y1="380.00" x2="445.80" y2="380.00" stroke="#1a1a1a" stroke-width="1.3" />
<line x1="250.90" y1="380.00" x2="255.90" y2="380.00" stroke="#1a1a1a" stroke-width="1.3" />
<text x="249.00" y="383.60" font-size="10" text-anchor="end" fill="#1a1a1a" >0</text>
<line x1="250.90" y1="354.04" x2="255.90" y2="354.04" stroke="#1a1a1a" stroke-width="1.3" />
<text x="249.00" y="357.64" font-size="10" text-anchor="end" fill="#1a1a1a" >1</text>
<line x1="250.90" y1="328.08" x2="255.90" y2="328.08" stroke="#1a1a1a" stroke-width="1.3" />
<text x="249.00" y="331.68" font-size="10" text-anchor="end" fill="#1a1a1a" >2</text>
<line x1="250.90" y1="302.12" x2="255.90" y2="302.12" stroke="#1a1a1a" stroke-width="1.3" />
<text x="249.00" y="305.72" font-size="10" text-anchor="end" fill="#1a1a1a" >3</text>
<line x1="250.90" y1="276.16" x2="255.90" y2="276.16" stroke="#1a1a1a" stroke-width="1.3" />
<text x="249.00" y="279.76" font-size="10" text-anchor="end" fill="#1a1a1a" >4</text>
<line x1="250.90" y1="250.20" x2="255.90" y2="250.20" stroke="#1a1a1a" stroke-width="1.3" />
<text x="249.00" y="253.80" font-size="10" text-anchor="end" fill="#1a1a1a" >5</text>
<line x1="271.00" y1="380.00" x2="271.00" y2="375.00" stroke="#1a1a1a" stroke-width="1.3" />
<text x="271.30" y="392.20" font-size="10" text-anchor="middle" fill="#1a1a1a" >65</text>
<line x1="301.76" y1="380.00" x2="301.76" y2="375.00" stroke="#1a1a1a" stroke-width="1.3" />
<text x="302.06" y="392.20" font-size="10" text-anchor="middle" fill="#1a1a1a" >70</text>
<line x1="332.52" y1="380.00" x2="332.52" y2="375.00" stroke="#1a1a1a" stroke-width="1.3" />
<text x="332.82" y="392.20" font-size="10" text-anchor="middle" fill="#1a1a1a" >75</text>
<line x1="363.28" y1="380.00" x2="363.28" y2="375.00" stroke="#1a1a1a" stroke-width="1.3" />
<text x="363.58" y="392.20" font-size="10" text-anchor="middle" fill="#1a1a1a" >80</text>
<line x1="394.04" y1="380.00" x2="394.04" y2="375.00" stroke="#1a1a1a" stroke-width="1.3" />
<text x="394.34" y="392.20" font-size="10" text-anchor="middle" fill="#1a1a1a" >85</text>
<line x1="424.80" y1="380.00" x2="424.80" y2="375.00" stroke="#1a1a1a" stroke-width="1.3" />
<text x="425.10" y="392.20" font-size="10" text-anchor="middle" fill="#1a1a1a" >90</text>
<g stroke="#7d90e2" stroke-width="1.0" opacity="0.5"><line x1="271.00" y1="374.29" x2="271.00" y2="376.88"/><line x1="268.20" y1="374.29" x2="273.80" y2="374.29"/><line x1="268.20" y1="376.88" x2="273.80" y2="376.88"/></g>
<g stroke="#7d90e2" stroke-width="1.0" opacity="0.5"><line x1="301.76" y1="368.06" x2="301.76" y2="375.85"/><line x1="298.96" y1="368.06" x2="304.56" y2="368.06"/><line x1="298.96" y1="375.85" x2="304.56" y2="375.85"/></g>
<g stroke="#7d90e2" stroke-width="1.0" opacity="0.5"><line x1="332.52" y1="361.83" x2="332.52" y2="373.25"/><line x1="329.72" y1="361.83" x2="335.32" y2="361.83"/><line x1="329.72" y1="373.25" x2="335.32" y2="373.25"/></g>
<g stroke="#7d90e2" stroke-width="1.0" opacity="0.5"><line x1="363.28" y1="354.56" x2="363.28" y2="369.10"/><line x1="360.48" y1="354.56" x2="366.08" y2="354.56"/><line x1="360.48" y1="369.10" x2="366.08" y2="369.10"/></g>
<g stroke="#7d90e2" stroke-width="1.0" opacity="0.5"><line x1="394.04" y1="339.50" x2="394.04" y2="358.19"/><line x1="391.24" y1="339.50" x2="396.84" y2="339.50"/><line x1="391.24" y1="358.19" x2="396.84" y2="358.19"/></g>
<g stroke="#7d90e2" stroke-width="1.0" opacity="0.5"><line x1="424.80" y1="318.22" x2="424.80" y2="341.06"/><line x1="422.00" y1="318.22" x2="427.60" y2="318.22"/><line x1="422.00" y1="341.06" x2="427.60" y2="341.06"/></g>
<polyline points="271.00,375.59 301.76,371.95 332.52,367.54 363.28,361.83 394.04,348.85 424.80,329.64" fill="none" stroke="#7d90e2" stroke-width="1.3"/>
<circle cx="271.00" cy="375.59" r="2.95" fill="#7d90e2"/>
<circle cx="301.76" cy="371.95" r="2.95" fill="#7d90e2"/>
<circle cx="332.52" cy="367.54" r="2.95" fill="#7d90e2"/>
<circle cx="363.28" cy="361.83" r="2.95" fill="#7d90e2"/>
<circle cx="394.04" cy="348.85" r="2.95" fill="#7d90e2"/>
<circle cx="424.80" cy="329.64" r="2.95" fill="#7d90e2"/>
<g stroke="#dc3b6f" stroke-width="1.0" opacity="0.5"><line x1="271.00" y1="354.30" x2="271.00" y2="367.28"/><line x1="268.20" y1="354.30" x2="273.80" y2="354.30"/><line x1="268.20" y1="367.28" x2="273.80" y2="367.28"/></g>
<g stroke="#dc3b6f" stroke-width="1.0" opacity="0.5"><line x1="301.76" y1="343.66" x2="301.76" y2="359.75"/><line x1="298.96" y1="343.66" x2="304.56" y2="343.66"/><line x1="298.96" y1="359.75" x2="304.56" y2="359.75"/></g>
<g stroke="#dc3b6f" stroke-width="1.0" opacity="0.5"><line x1="332.52" y1="332.75" x2="332.52" y2="348.85"/><line x1="329.72" y1="332.75" x2="335.32" y2="332.75"/><line x1="329.72" y1="348.85" x2="335.32" y2="348.85"/></g>
<g stroke="#dc3b6f" stroke-width="1.0" opacity="0.5"><line x1="363.28" y1="314.58" x2="363.28" y2="336.91"/><line x1="360.48" y1="314.58" x2="366.08" y2="314.58"/><line x1="360.48" y1="336.91" x2="366.08" y2="336.91"/></g>
<g stroke="#dc3b6f" stroke-width="1.0" opacity="0.5"><line x1="394.04" y1="295.63" x2="394.04" y2="322.11"/><line x1="391.24" y1="295.63" x2="396.84" y2="295.63"/><line x1="391.24" y1="322.11" x2="396.84" y2="322.11"/></g>
<g stroke="#dc3b6f" stroke-width="1.0" opacity="0.5"><line x1="424.80" y1="274.86" x2="424.80" y2="302.90"/><line x1="422.00" y1="274.86" x2="427.60" y2="274.86"/><line x1="422.00" y1="302.90" x2="427.60" y2="302.90"/></g>
<polyline points="271.00,360.79 301.76,351.70 332.52,340.80 363.28,325.74 394.04,308.87 424.80,288.88" fill="none" stroke="#dc3b6f" stroke-width="1.3"/>
<rect x="268.25" y="358.04" width="5.5" height="5.5" fill="#dc3b6f"/>
<rect x="299.01" y="348.95" width="5.5" height="5.5" fill="#dc3b6f"/>
<rect x="329.77" y="338.05" width="5.5" height="5.5" fill="#dc3b6f"/>
<rect x="360.53" y="322.99" width="5.5" height="5.5" fill="#dc3b6f"/>
<rect x="391.29" y="306.12" width="5.5" height="5.5" fill="#dc3b6f"/>
<rect x="422.05" y="286.13" width="5.5" height="5.5" fill="#dc3b6f"/>
<line x1="268.70" y1="256.00" x2="278.70" y2="256.00" stroke="#7d90e2" stroke-width="1.4" />
<circle cx="273.70" cy="256.00" r="2.5" fill="#7d90e2"/>
<text x="283.10" y="259.20" font-size="9" text-anchor="start" fill="#1a1a1a" >PND14 (N=10)</text>
<line x1="268.70" y1="268.70" x2="278.70" y2="268.70" stroke="#dc3b6f" stroke-width="1.4" />
<rect x="271.20" y="266.20" width="5.0" height="5.0" fill="#dc3b6f"/>
<text x="283.10" y="271.90" font-size="9" text-anchor="start" fill="#1a1a1a" >Treatment_PND14 (N=10)</text>
<text x="394.20" y="297.76" font-size="15.5" text-anchor="middle" fill="#1a1a1a" letter-spacing="0.5" font-weight="bold">*</text>
<text x="425.10" y="274.26" font-size="15.5" text-anchor="middle" fill="#1a1a1a" letter-spacing="0.5" font-weight="bold">*</text>
<text x="398.00" y="368.00" font-size="10.2" text-anchor="start" fill="#1a1a1a" >16.0 kHz</text>
<text x="346.00" y="411.00" font-size="10.7" text-anchor="middle" fill="#1a1a1a" >Intensity (dB SPL)</text>
<text x="0.00" y="0.00" font-size="10.2" text-anchor="middle" fill="#1a1a1a" transform="translate(237.7,315.7) rotate(-90)">Amplitude (μV)</text>
</g>
<g>
<text x="459.00" y="236.00" font-size="16" text-anchor="start" fill="#1a1a1a" >F</text>
<line x1="488.60" y1="250.20" x2="488.60" y2="380.00" stroke="#1a1a1a" stroke-width="1.3" />
<line x1="488.60" y1="380.00" x2="683.80" y2="380.00" stroke="#1a1a1a" stroke-width="1.3" />
<line x1="488.60" y1="380.00" x2="493.60" y2="380.00" stroke="#1a1a1a" stroke-width="1.3" />
<text x="486.00" y="383.60" font-size="10" text-anchor="end" fill="#1a1a1a" >1.4</text>
<line x1="488.60" y1="358.36" x2="493.60" y2="358.36" stroke="#1a1a1a" stroke-width="1.3" />
<text x="486.00" y="361.96" font-size="10" text-anchor="end" fill="#1a1a1a" >1.6</text>
<line x1="488.60" y1="336.72" x2="493.60" y2="336.72" stroke="#1a1a1a" stroke-width="1.3" />
<text x="486.00" y="340.32" font-size="10" text-anchor="end" fill="#1a1a1a" >1.8</text>
<line x1="488.60" y1="315.08" x2="493.60" y2="315.08" stroke="#1a1a1a" stroke-width="1.3" />
<text x="486.00" y="318.68" font-size="10" text-anchor="end" fill="#1a1a1a" >2.0</text>
<line x1="488.60" y1="293.44" x2="493.60" y2="293.44" stroke="#1a1a1a" stroke-width="1.3" />
<text x="486.00" y="297.04" font-size="10" text-anchor="end" fill="#1a1a1a" >2.2</text>
<line x1="488.60" y1="271.80" x2="493.60" y2="271.80" stroke="#1a1a1a" stroke-width="1.3" />
<text x="486.00" y="275.40" font-size="10" text-anchor="end" fill="#1a1a1a" >2.4</text>
<line x1="488.60" y1="250.16" x2="493.60" y2="250.16" stroke="#1a1a1a" stroke-width="1.3" />
<text x="486.00" y="253.76" font-size="10" text-anchor="end" fill="#1a1a1a" >2.6</text>
<line x1="508.70" y1="380.00" x2="508.70" y2="375.00" stroke="#1a1a1a" stroke-width="1.3" />
<text x="509.00" y="392.20" font-size="10" text-anchor="middle" fill="#1a1a1a" >65</text>
<line x1="539.46" y1="380.00" x2="539.46" y2="375.00" stroke="#1a1a1a" stroke-width="1.3" />
<text x="539.76" y="392.20" font-size="10" text-anchor="middle" fill="#1a1a1a" >70</text>
<line x1="570.22" y1="380.00" x2="570.22" y2="375.00" stroke="#1a1a1a" stroke-width="1.3" />
<text x="570.52" y="392.20" font-size="10" text-anchor="middle" fill="#1a1a1a" >75</text>
<line x1="600.98" y1="380.00" x2="600.98" y2="375.00" stroke="#1a1a1a" stroke-width="1.3" />
<text x="601.28" y="392.20" font-size="10" text-anchor="middle" fill="#1a1a1a" >80</text>
<line x1="631.74" y1="380.00" x2="631.74" y2="375.00" stroke="#1a1a1a" stroke-width="1.3" />
<text x="632.04" y="392.20" font-size="10" text-anchor="middle" fill="#1a1a1a" >85</text>
<line x1="662.50" y1="380.00" x2="662.50" y2="375.00" stroke="#1a1a1a" stroke-width="1.3" />
<text x="662.80" y="392.20" font-size="10" text-anchor="middle" fill="#1a1a1a" >90</text>
<g stroke="#7d90e2" stroke-width="1.0" opacity="0.5"><line x1="508.70" y1="275.05" x2="508.70" y2="289.11"/><line x1="505.90" y1="275.05" x2="511.50" y2="275.05"/><line x1="505.90" y1="289.11" x2="511.50" y2="289.11"/></g>
<g stroke="#7d90e2" stroke-width="1.0" opacity="0.5"><line x1="539.46" y1="281.32" x2="539.46" y2="297.55"/><line x1="536.66" y1="281.32" x2="542.26" y2="281.32"/><line x1="536.66" y1="297.55" x2="542.26" y2="297.55"/></g>
<g stroke="#7d90e2" stroke-width="1.0" opacity="0.5"><line x1="570.22" y1="293.22" x2="570.22" y2="307.94"/><line x1="567.42" y1="293.22" x2="573.02" y2="293.22"/><line x1="567.42" y1="307.94" x2="573.02" y2="307.94"/></g>
<g stroke="#7d90e2" stroke-width="1.0" opacity="0.5"><line x1="600.98" y1="308.05" x2="600.98" y2="319.95"/><line x1="598.18" y1="308.05" x2="603.78" y2="308.05"/><line x1="598.18" y1="319.95" x2="603.78" y2="319.95"/></g>
<g stroke="#7d90e2" stroke-width="1.0" opacity="0.5"><line x1="631.74" y1="326.87" x2="631.74" y2="336.61"/><line x1="628.94" y1="326.87" x2="634.54" y2="326.87"/><line x1="628.94" y1="336.61" x2="634.54" y2="336.61"/></g>
<g stroke="#7d90e2" stroke-width="1.0" opacity="0.5"><line x1="662.50" y1="340.83" x2="662.50" y2="348.84"/><line x1="659.70" y1="340.83" x2="665.30" y2="340.83"/><line x1="659.70" y1="348.84" x2="665.30" y2="348.84"/></g>
<polyline points="508.70,282.08 539.46,289.44 570.22,300.58 600.98,314.00 631.74,331.74 662.50,344.83" fill="none" stroke="#7d90e2" stroke-width="1.3"/>
<circle cx="508.70" cy="282.08" r="2.95" fill="#7d90e2"/>
<circle cx="539.46" cy="289.44" r="2.95" fill="#7d90e2"/>
<circle cx="570.22" cy="300.58" r="2.95" fill="#7d90e2"/>
<circle cx="600.98" cy="314.00" r="2.95" fill="#7d90e2"/>
<circle cx="631.74" cy="331.74" r="2.95" fill="#7d90e2"/>
<circle cx="662.50" cy="344.83" r="2.95" fill="#7d90e2"/>
<g stroke="#dc3b6f" stroke-width="1.0" opacity="0.5"><line x1="508.70" y1="305.02" x2="508.70" y2="325.14"/><line x1="505.90" y1="305.02" x2="511.50" y2="305.02"/><line x1="505.90" y1="325.14" x2="511.50" y2="325.14"/></g>
<g stroke="#dc3b6f" stroke-width="1.0" opacity="0.5"><line x1="539.46" y1="311.29" x2="539.46" y2="331.85"/><line x1="536.66" y1="311.29" x2="542.26" y2="311.29"/><line x1="536.66" y1="331.85" x2="542.26" y2="331.85"/></g>
<g stroke="#dc3b6f" stroke-width="1.0" opacity="0.5"><line x1="570.22" y1="322.65" x2="570.22" y2="341.48"/><line x1="567.42" y1="322.65" x2="573.02" y2="322.65"/><line x1="567.42" y1="341.48" x2="573.02" y2="341.48"/></g>
<g stroke="#dc3b6f" stroke-width="1.0" opacity="0.5"><line x1="600.98" y1="336.29" x2="600.98" y2="351.44"/><line x1="598.18" y1="336.29" x2="603.78" y2="336.29"/><line x1="598.18" y1="351.44" x2="603.78" y2="351.44"/></g>
<g stroke="#dc3b6f" stroke-width="1.0" opacity="0.5"><line x1="631.74" y1="347.97" x2="631.74" y2="359.66"/><line x1="628.94" y1="347.97" x2="634.54" y2="347.97"/><line x1="628.94" y1="359.66" x2="634.54" y2="359.66"/></g>
<g stroke="#dc3b6f" stroke-width="1.0" opacity="0.5"><line x1="662.50" y1="358.04" x2="662.50" y2="367.12"/><line x1="659.70" y1="358.04" x2="665.30" y2="358.04"/><line x1="659.70" y1="367.12" x2="665.30" y2="367.12"/></g>
<polyline points="508.70,315.08 539.46,321.57 570.22,332.07 600.98,343.86 631.74,353.82 662.50,362.58" fill="none" stroke="#dc3b6f" stroke-width="1.3"/>
<rect x="505.95" y="312.33" width="5.5" height="5.5" fill="#dc3b6f"/>
<rect x="536.71" y="318.82" width="5.5" height="5.5" fill="#dc3b6f"/>
<rect x="567.47" y="329.32" width="5.5" height="5.5" fill="#dc3b6f"/>
<rect x="598.23" y="341.11" width="5.5" height="5.5" fill="#dc3b6f"/>
<rect x="628.99" y="351.07" width="5.5" height="5.5" fill="#dc3b6f"/>
<rect x="659.75" y="359.83" width="5.5" height="5.5" fill="#dc3b6f"/>
<line x1="541.60" y1="255.30" x2="552.40" y2="255.30" stroke="#7d90e2" stroke-width="1.4" />
<circle cx="547.00" cy="255.30" r="2.5" fill="#7d90e2"/>
<text x="556.70" y="258.50" font-size="9" text-anchor="start" fill="#1a1a1a" >PND14 (N=10)</text>
<line x1="541.60" y1="268.70" x2="552.40" y2="268.70" stroke="#dc3b6f" stroke-width="1.4" />
<rect x="544.50" y="266.20" width="5.0" height="5.0" fill="#dc3b6f"/>
<text x="556.70" y="271.90" font-size="9" text-anchor="start" fill="#1a1a1a" >Treatment_PND14 (N=10)</text>
<text x="509.00" y="275.96" font-size="15.5" text-anchor="middle" fill="#1a1a1a" letter-spacing="0.5" font-weight="bold">*</text>
<text x="539.90" y="283.36" font-size="15.5" text-anchor="middle" fill="#1a1a1a" letter-spacing="0.5" font-weight="bold">*</text>
<text x="570.50" y="293.76" font-size="15.5" text-anchor="middle" fill="#1a1a1a" letter-spacing="0.5" font-weight="bold">*</text>
<text x="601.00" y="306.86" font-size="15.5" text-anchor="middle" fill="#1a1a1a" letter-spacing="0.5" font-weight="bold">*</text>
<text x="509.00" y="366.50" font-size="10.2" text-anchor="start" fill="#1a1a1a" >16.0 kHz</text>
<text x="579.00" y="411.00" font-size="10.7" text-anchor="middle" fill="#1a1a1a" >Intensity (dB SPL)</text>
<text x="0.00" y="0.00" font-size="10.2" text-anchor="middle" fill="#1a1a1a" transform="translate(466,319) rotate(-90)">Latency (ms)</text>
</g>
<g clip-path="url(#clip1)">
<rect x="5" y="464" width="153" height="153" fill="#020105"/>
<g filter="url(#b3)">
<rect x="5" y="585" width="153" height="32" fill="#0e0204" opacity="0.8"/>
</g>
<g filter="url(#tex)">
<path d="M8.0,497.0 C22.3,497.0 21.0,519.0 21.0,533.0 L19.5,579.0 Q18.5,591.0 8.0,591.0 Q-2.5,591.0 -3.5,579.0 L-5.0,533.0 C-5.0,519.0 -6.3,497.0 8.0,497.0 Z" fill="#1216a8" opacity="1"/>
<path d="M33.0,495.0 C47.9,495.0 46.5,517.0 46.5,531.0 L45.0,566.0 Q44.0,578.0 33.0,578.0 Q22.0,578.0 21.0,566.0 L19.5,531.0 C19.5,517.0 18.1,495.0 33.0,495.0 Z" fill="#1216a8" opacity="1"/>
<path d="M63.0,496.0 C79.0,496.0 77.5,518.0 77.5,532.0 L76.0,565.0 Q75.0,577.0 63.0,577.0 Q51.0,577.0 50.0,565.0 L48.5,532.0 C48.5,518.0 47.0,496.0 63.0,496.0 Z" fill="#1216a8" opacity="1"/>
<path d="M92.0,496.0 C107.4,496.0 106.0,518.0 106.0,532.0 L104.5,555.0 Q103.5,567.0 92.0,567.0 Q80.5,567.0 79.5,555.0 L78.0,532.0 C78.0,518.0 76.6,496.0 92.0,496.0 Z" fill="#1216a8" opacity="1"/>
<path d="M122.0,496.0 C137.4,496.0 136.0,518.0 136.0,532.0 L134.5,570.0 Q133.5,582.0 122.0,582.0 Q110.5,582.0 109.5,570.0 L108.0,532.0 C108.0,518.0 106.6,496.0 122.0,496.0 Z" fill="#1216a8" opacity="1"/>
<path d="M149.0,497.0 C163.3,497.0 162.0,519.0 162.0,533.0 L160.5,560.0 Q159.5,572.0 149.0,572.0 Q138.5,572.0 137.5,560.0 L136.0,533.0 C136.0,519.0 134.7,497.0 149.0,497.0 Z" fill="#1216a8" opacity="1"/>
<path d="M5.0,540.0 L40.0,536.0 L80.0,542.0 L120.0,538.0 L158.0,540.0 L158.0,578.0 L152.0,576.0 L146.0,572.0 L140.0,572.0 L134.0,580.0 L128.0,584.0 L122.0,579.0 L116.0,572.0 L110.0,566.0 L104.0,566.0 L98.0,570.0 L92.0,574.0 L86.0,572.0 L80.0,567.0 L74.0,570.0 L68.0,575.0 L62.0,578.0 L56.0,572.0 L50.0,567.0 L46.0,570.0 L40.0,576.0 L33.0,577.0 L27.0,580.0 L22.0,588.0 L15.0,593.0 L10.0,590.0 L5.0,582.0 Z" fill="#2444ee" opacity="0.55"/>
<ellipse cx="14" cy="556" rx="14" ry="22" fill="#3468ff" opacity="0.9"/>
<ellipse cx="40" cy="552" rx="14" ry="14" fill="#3468ff" opacity="0.8"/>
<ellipse cx="62" cy="548" rx="13" ry="16" fill="#3468ff" opacity="0.6"/>
<ellipse cx="88" cy="556" rx="12" ry="12" fill="#3468ff" opacity="0.5"/>
<ellipse cx="112" cy="548" rx="10" ry="14" fill="#3468ff" opacity="0.7"/>
<ellipse cx="140" cy="552" rx="14" ry="16" fill="#3468ff" opacity="0.85"/>
<ellipse cx="150" cy="570" rx="8" ry="8" fill="#3468ff" opacity="0.8"/>
<ellipse cx="33" cy="517" rx="10" ry="12" fill="#140a50" opacity="0.45"/>
<ellipse cx="62" cy="517" rx="10" ry="12" fill="#140a50" opacity="0.45"/>
<ellipse cx="91" cy="517" rx="10" ry="12" fill="#140a50" opacity="0.45"/>
<ellipse cx="122" cy="517" rx="10" ry="12" fill="#140a50" opacity="0.45"/>
<ellipse cx="149" cy="517" rx="10" ry="12" fill="#140a50" opacity="0.45"/>
</g>
<g filter="url(#speck)" opacity="0.45">
<path d="M8.0,497.0 C22.3,497.0 21.0,519.0 21.0,533.0 L19.5,565.0 Q18.5,577.0 8.0,577.0 Q-2.5,577.0 -3.5,565.0 L-5.0,533.0 C-5.0,519.0 -6.3,497.0 8.0,497.0 Z" fill="#000" opacity="1"/>
<path d="M33.0,495.0 C47.9,495.0 46.5,517.0 46.5,531.0 L45.0,552.0 Q44.0,564.0 33.0,564.0 Q22.0,564.0 21.0,552.0 L19.5,531.0 C19.5,517.0 18.1,495.0 33.0,495.0 Z" fill="#000" opacity="1"/>
<path d="M63.0,496.0 C79.0,496.0 77.5,518.0 77.5,532.0 L76.0,551.0 Q75.0,563.0 63.0,563.0 Q51.0,563.0 50.0,551.0 L48.5,532.0 C48.5,518.0 47.0,496.0 63.0,496.0 Z" fill="#000" opacity="1"/>
<path d="M92.0,496.0 C107.4,496.0 106.0,518.0 106.0,532.0 L104.5,541.0 Q103.5,553.0 92.0,553.0 Q80.5,553.0 79.5,541.0 L78.0,532.0 C78.0,518.0 76.6,496.0 92.0,496.0 Z" fill="#000" opacity="1"/>
<path d="M122.0,496.0 C137.4,496.0 136.0,518.0 136.0,532.0 L134.5,556.0 Q133.5,568.0 122.0,568.0 Q110.5,568.0 109.5,556.0 L108.0,532.0 C108.0,518.0 106.6,496.0 122.0,496.0 Z" fill="#000" opacity="1"/>
<path d="M149.0,497.0 C163.3,497.0 162.0,519.0 162.0,533.0 L160.5,546.0 Q159.5,558.0 149.0,558.0 Q138.5,558.0 137.5,546.0 L136.0,533.0 C136.0,519.0 134.7,497.0 149.0,497.0 Z" fill="#000" opacity="1"/>
</g>
<g filter="url(#b1)">
<path d="M20,515 Q22,497 33,496 Q44,497 46,515" stroke="#28a088" stroke-width="0.8" fill="none" opacity="0.55"/>
<path d="M49,515 Q51,497 62,496 Q73,497 75,515" stroke="#28a088" stroke-width="0.8" fill="none" opacity="0.55"/>
<path d="M78,515 Q80,497 91,496 Q102,497 104,515" stroke="#28a088" stroke-width="0.8" fill="none" opacity="0.55"/>
<path d="M109,515 Q111,497 122,496 Q133,497 135,515" stroke="#28a088" stroke-width="0.8" fill="none" opacity="0.55"/>
<path d="M136,515 Q138,497 149,496 Q160,497 162,515" stroke="#28a088" stroke-width="0.8" fill="none" opacity="0.55"/>
<path d="M20,505 Q22,530 19,560" stroke="#2a9a8a" stroke-width="0.9" fill="none" opacity="0.5"/>
<path d="M48,505 Q50,530 47,560" stroke="#2a9a8a" stroke-width="0.9" fill="none" opacity="0.5"/>
<path d="M77,505 Q79,530 76,560" stroke="#2a9a8a" stroke-width="0.9" fill="none" opacity="0.5"/>
<path d="M106,505 Q108,530 105,560" stroke="#2a9a8a" stroke-width="0.9" fill="none" opacity="0.5"/>
<path d="M136,505 Q138,530 135,560" stroke="#2a9a8a" stroke-width="0.9" fill="none" opacity="0.5"/>
</g>
<g filter="url(#b05)"><circle cx="7.0" cy="588.0" r="1.32" fill="#ff2040"/><circle cx="7.6" cy="589.6" r="1.39" fill="#20e040"/><circle cx="16.9" cy="577.8" r="1.11" fill="#ff2040"/><circle cx="16.1" cy="579.4" r="1.14" fill="#20e040"/><circle cx="8.2" cy="588.2" r="1.10" fill="#30f050"/><circle cx="1.4" cy="582.5" r="1.14" fill="#ff3068"/><circle cx="10.7" cy="587.8" r="1.39" fill="#ff2040"/><circle cx="10.5" cy="589.4" r="1.29" fill="#20e040"/><circle cx="-0.5" cy="578.3" r="1.11" fill="#ff2040"/><circle cx="-1.2" cy="579.9" r="1.40" fill="#20e040"/><circle cx="-0.6" cy="579.4" r="1.37" fill="#30f050"/><circle cx="12.1" cy="584.8" r="1.35" fill="#30f050"/><circle cx="18.1" cy="576.1" r="1.37" fill="#e0ffff"/><circle cx="19.3" cy="575.1" r="1.15" fill="#ff40a0"/><circle cx="11.2" cy="587.0" r="1.24" fill="#30f050"/><circle cx="0.8" cy="580.3" r="1.28" fill="#30f050"/><circle cx="8.6" cy="586.9" r="1.22" fill="#ff2040"/><circle cx="8.2" cy="588.5" r="1.18" fill="#20e040"/><circle cx="1.5" cy="582.0" r="1.37" fill="#ff2040"/><circle cx="2.5" cy="583.6" r="1.44" fill="#20e040"/><circle cx="-0.5" cy="555.1" r="1.27" fill="#ff3068"/><circle cx="6.9" cy="569.9" r="1.10" fill="#30f050"/><circle cx="8.3" cy="562.0" r="1.23" fill="#ff3068"/><circle cx="33.0" cy="575.4" r="1.26" fill="#ff2040"/><circle cx="32.1" cy="577.0" r="1.15" fill="#20e040"/><circle cx="32.1" cy="574.4" r="1.29" fill="#ff3068"/><circle cx="43.9" cy="562.3" r="1.25" fill="#ff2040"/><circle cx="42.8" cy="563.9" r="1.14" fill="#20e040"/><circle cx="40.5" cy="569.0" r="1.20" fill="#ff2040"/><circle cx="39.6" cy="570.6" r="1.08" fill="#20e040"/><circle cx="28.9" cy="572.4" r="1.43" fill="#ff3068"/><circle cx="28.4" cy="571.5" r="1.42" fill="#ff2040"/><circle cx="29.0" cy="573.1" r="1.07" fill="#20e040"/><circle cx="38.9" cy="570.8" r="1.39" fill="#ff2040"/><circle cx="39.8" cy="572.4" r="1.31" fill="#20e040"/><circle cx="40.6" cy="568.0" r="1.40" fill="#ff2040"/><circle cx="40.4" cy="569.6" r="1.40" fill="#20e040"/><circle cx="43.1" cy="564.1" r="1.13" fill="#30f050"/><circle cx="22.0" cy="560.3" r="1.20" fill="#e0ffff"/><circle cx="23.2" cy="559.3" r="1.34" fill="#ff40a0"/><circle cx="42.0" cy="565.5" r="1.29" fill="#ff2040"/><circle cx="43.4" cy="567.1" r="1.34" fill="#20e040"/><circle cx="43.6" cy="561.8" r="1.28" fill="#ff2040"/><circle cx="43.9" cy="563.4" r="1.29" fill="#20e040"/><circle cx="23.6" cy="565.1" r="1.19" fill="#ff2040"/><circle cx="24.3" cy="566.7" r="1.17" fill="#20e040"/><circle cx="38.3" cy="542.6" r="1.09" fill="#ff2040"/><circle cx="38.8" cy="544.2" r="1.14" fill="#20e040"/><circle cx="25.2" cy="544.3" r="1.27" fill="#ff2040"/><circle cx="25.6" cy="545.9" r="1.27" fill="#20e040"/><circle cx="41.8" cy="556.2" r="1.19" fill="#ff2040"/><circle cx="41.6" cy="557.8" r="1.09" fill="#20e040"/><circle cx="53.8" cy="565.2" r="1.10" fill="#ff2040"/><circle cx="55.3" cy="566.8" r="1.17" fill="#20e040"/><circle cx="53.4" cy="564.0" r="1.08" fill="#ff2040"/><circle cx="53.7" cy="565.6" r="1.24" fill="#20e040"/><circle cx="70.1" cy="568.3" r="1.05" fill="#ff2040"/><circle cx="71.1" cy="569.9" r="1.18" fill="#20e040"/><circle cx="64.4" cy="573.7" r="1.44" fill="#ff3068"/><circle cx="55.6" cy="569.2" r="1.24" fill="#ff3068"/><circle cx="54.1" cy="566.7" r="1.17" fill="#ff3068"/><circle cx="53.8" cy="565.6" r="1.41" fill="#ff2040"/><circle cx="53.8" cy="567.2" r="1.35" fill="#20e040"/><circle cx="56.1" cy="568.8" r="1.39" fill="#ff2040"/><circle cx="56.7" cy="570.4" r="1.15" fill="#20e040"/><circle cx="74.3" cy="562.3" r="1.19" fill="#ff3068"/><circle cx="58.3" cy="572.8" r="1.13" fill="#ff2040"/><circle cx="57.7" cy="574.4" r="1.19" fill="#20e040"/><circle cx="56.1" cy="569.1" r="1.08" fill="#ff2040"/><circle cx="55.7" cy="570.7" r="1.35" fill="#20e040"/><circle cx="71.5" cy="567.3" r="1.05" fill="#ff3068"/><circle cx="53.4" cy="566.2" r="1.13" fill="#30f050"/><circle cx="57.0" cy="542.7" r="1.27" fill="#ff3068"/><circle cx="68.7" cy="544.6" r="1.22" fill="#ff2040"/><circle cx="68.1" cy="546.2" r="1.10" fill="#20e040"/><circle cx="58.7" cy="537.9" r="1.09" fill="#e0ffff"/><circle cx="59.9" cy="536.9" r="1.38" fill="#ff40a0"/><circle cx="82.6" cy="554.8" r="1.21" fill="#ff2040"/><circle cx="82.0" cy="556.4" r="1.06" fill="#20e040"/><circle cx="86.1" cy="560.5" r="1.23" fill="#ff2040"/><circle cx="85.7" cy="562.1" r="1.40" fill="#20e040"/><circle cx="89.0" cy="563.0" r="1.07" fill="#e0ffff"/><circle cx="90.2" cy="562.0" r="1.26" fill="#ff40a0"/><circle cx="102.6" cy="552.2" r="1.18" fill="#ff2040"/><circle cx="103.5" cy="553.8" r="1.41" fill="#20e040"/><circle cx="93.7" cy="564.6" r="1.10" fill="#ff3068"/><circle cx="84.7" cy="557.5" r="1.40" fill="#ff2040"/><circle cx="83.9" cy="559.1" r="1.11" fill="#20e040"/><circle cx="101.4" cy="555.4" r="1.20" fill="#ff3068"/><circle cx="86.2" cy="559.7" r="1.14" fill="#ff2040"/><circle cx="87.1" cy="561.3" r="1.34" fill="#20e040"/><circle cx="97.5" cy="561.8" r="1.42" fill="#ff3068"/><circle cx="85.0" cy="559.9" r="1.42" fill="#ff3068"/><circle cx="100.8" cy="556.1" r="1.30" fill="#ff2040"/><circle cx="101.0" cy="557.7" r="1.39" fill="#20e040"/><circle cx="90.2" cy="562.7" r="1.10" fill="#e0ffff"/><circle cx="91.4" cy="561.7" r="1.10" fill="#ff40a0"/><circle cx="81.4" cy="553.2" r="1.37" fill="#ff3068"/><circle cx="86.8" cy="547.3" r="1.17" fill="#ff3068"/><circle cx="87.1" cy="549.2" r="1.17" fill="#e0ffff"/><circle cx="88.3" cy="548.2" r="1.08" fill="#ff40a0"/><circle cx="93.9" cy="540.7" r="1.34" fill="#ff2040"/><circle cx="92.5" cy="542.3" r="1.09" fill="#20e040"/><circle cx="114.5" cy="573.6" r="1.40" fill="#30f050"/><circle cx="112.1" cy="567.9" r="1.37" fill="#e0ffff"/><circle cx="113.3" cy="566.9" r="1.22" fill="#ff40a0"/><circle cx="123.4" cy="579.6" r="1.38" fill="#ff3068"/><circle cx="124.6" cy="577.7" r="1.17" fill="#30f050"/><circle cx="131.6" cy="568.5" r="1.09" fill="#30f050"/><circle cx="110.9" cy="565.4" r="1.24" fill="#ff2040"/><circle cx="112.4" cy="567.0" r="1.16" fill="#20e040"/><circle cx="120.8" cy="577.8" r="1.23" fill="#30f050"/><circle cx="114.6" cy="572.8" r="1.15" fill="#ff2040"/><circle cx="113.1" cy="574.4" r="1.18" fill="#20e040"/><circle cx="123.7" cy="577.8" r="1.15" fill="#e0ffff"/><circle cx="124.9" cy="576.8" r="1.39" fill="#ff40a0"/><circle cx="118.8" cy="578.9" r="1.22" fill="#e0ffff"/><circle cx="120.0" cy="577.9" r="1.45" fill="#ff40a0"/><circle cx="133.1" cy="566.4" r="1.24" fill="#30f050"/><circle cx="126.4" cy="577.2" r="1.41" fill="#ff2040"/><circle cx="126.3" cy="578.8" r="1.26" fill="#20e040"/><circle cx="113.7" cy="570.6" r="1.24" fill="#ff2040"/><circle cx="113.4" cy="572.2" r="1.13" fill="#20e040"/><circle cx="112.4" cy="564.2" r="1.06" fill="#ff3068"/><circle cx="126.0" cy="565.8" r="1.12" fill="#30f050"/><circle cx="112.4" cy="555.7" r="1.17" fill="#ff2040"/><circle cx="112.7" cy="557.3" r="1.40" fill="#20e040"/><circle cx="148.6" cy="569.5" r="1.26" fill="#ff3068"/><circle cx="145.2" cy="568.4" r="1.14" fill="#30f050"/><circle cx="140.1" cy="559.0" r="1.31" fill="#30f050"/><circle cx="154.0" cy="566.8" r="1.06" fill="#ff2040"/><circle cx="155.4" cy="568.4" r="1.39" fill="#20e040"/><circle cx="154.0" cy="566.3" r="1.11" fill="#ff2040"/><circle cx="155.0" cy="567.9" r="1.07" fill="#20e040"/><circle cx="155.2" cy="565.2" r="1.42" fill="#ff3068"/><circle cx="145.9" cy="568.2" r="1.29" fill="#ff2040"/><circle cx="145.8" cy="569.8" r="1.15" fill="#20e040"/><circle cx="157.4" cy="560.9" r="1.05" fill="#ff3068"/><circle cx="147.3" cy="569.3" r="1.19" fill="#ff2040"/><circle cx="148.0" cy="570.9" r="1.14" fill="#20e040"/><circle cx="156.6" cy="561.8" r="1.22" fill="#ff2040"/><circle cx="157.2" cy="563.4" r="1.42" fill="#20e040"/><circle cx="151.6" cy="567.8" r="1.09" fill="#30f050"/><circle cx="150.7" cy="568.9" r="1.42" fill="#e0ffff"/><circle cx="151.9" cy="567.9" r="1.38" fill="#ff40a0"/><circle cx="140.2" cy="559.5" r="1.32" fill="#30f050"/><circle cx="157.9" cy="554.6" r="1.32" fill="#30f050"/><circle cx="153.1" cy="544.8" r="1.15" fill="#ff3068"/><circle cx="153.2" cy="548.6" r="1.29" fill="#ff2040"/><circle cx="153.9" cy="550.2" r="1.07" fill="#20e040"/></g>
</g>
<rect x="5.5" y="464.5" width="152" height="152" fill="none" stroke="#1c1c1c" stroke-width="1"/>
<text class="serif" x="8.8" y="480.0" font-size="10" font-family="Liberation Serif, serif" textLength="116" lengthAdjust="spacingAndGlyphs"><tspan fill="#1c3aa0">Myosin VIIA</tspan><tspan fill="#c8c8c8">/</tspan><tspan fill="#d21c1c">CtBP2</tspan><tspan fill="#c8c8c8">/</tspan><tspan fill="#22a032">GluR2</tspan></text>
<text x="142.5" y="610.5" font-size="9.5" text-anchor="middle" fill="#fff">5μm</text>
<rect x="133.7" y="613.4" width="17.6" height="1.6" fill="#fff"/>
<g clip-path="url(#clip2)">
<rect x="160" y="464" width="153" height="153" fill="#020105"/>
<g filter="url(#b3)">
<ellipse cx="176" cy="600" rx="9" ry="10" fill="#3a0a0e" opacity="0.55"/>
<ellipse cx="200" cy="606" rx="9" ry="10" fill="#3a0a0e" opacity="0.55"/>
<ellipse cx="228" cy="598" rx="9" ry="10" fill="#3a0a0e" opacity="0.55"/>
<ellipse cx="256" cy="604" rx="9" ry="10" fill="#3a0a0e" opacity="0.55"/>
<ellipse cx="284" cy="600" rx="9" ry="10" fill="#3a0a0e" opacity="0.55"/>
<ellipse cx="306" cy="606" rx="9" ry="10" fill="#3a0a0e" opacity="0.55"/>
</g>
<g filter="url(#tex)">
<path d="M162.0,503.0 C171.9,503.0 171.0,525.0 171.0,539.0 L169.5,574.0 Q168.5,586.0 162.0,586.0 Q155.5,586.0 154.5,574.0 L153.0,539.0 C153.0,525.0 152.1,503.0 162.0,503.0 Z" fill="#161cae" opacity="1"/>
<path d="M178.0,506.0 C193.9,506.0 192.5,528.0 192.5,542.0 L191.0,574.0 Q190.0,586.0 178.0,586.0 Q166.0,586.0 165.0,574.0 L163.5,542.0 C163.5,528.0 162.1,506.0 178.0,506.0 Z" fill="#161cae" opacity="1"/>
<path d="M208.5,505.0 C226.1,505.0 224.5,527.0 224.5,541.0 L223.0,567.0 Q222.0,579.0 208.5,579.0 Q195.0,579.0 194.0,567.0 L192.5,541.0 C192.5,527.0 190.9,505.0 208.5,505.0 Z" fill="#161cae" opacity="1"/>
<path d="M239.0,503.0 C255.5,503.0 254.0,525.0 254.0,539.0 L252.5,568.0 Q251.5,580.0 239.0,580.0 Q226.5,580.0 225.5,568.0 L224.0,539.0 C224.0,525.0 222.5,503.0 239.0,503.0 Z" fill="#161cae" opacity="1"/>
<path d="M269.3,502.0 C288.0,502.0 286.3,524.0 286.3,538.0 L284.8,567.0 Q283.8,579.0 269.3,579.0 Q254.8,579.0 253.8,567.0 L252.3,538.0 C252.3,524.0 250.6,502.0 269.3,502.0 Z" fill="#161cae" opacity="1"/>
<path d="M300.0,499.0 C315.4,499.0 314.0,521.0 314.0,535.0 L312.5,562.0 Q311.5,574.0 300.0,574.0 Q288.5,574.0 287.5,562.0 L286.0,535.0 C286.0,521.0 284.6,499.0 300.0,499.0 Z" fill="#161cae" opacity="1"/>
<ellipse cx="178" cy="536" rx="10.5" ry="16" fill="#2c1060" opacity="0.6"/>
<ellipse cx="178" cy="572" rx="11.5" ry="13" fill="#2a4cff" opacity="0.5"/>
<ellipse cx="208.5" cy="535" rx="12.0" ry="16" fill="#2c1060" opacity="0.6"/>
<ellipse cx="208.5" cy="565" rx="13.0" ry="13" fill="#2a4cff" opacity="0.5"/>
<ellipse cx="239" cy="533" rx="11.0" ry="16" fill="#2c1060" opacity="0.6"/>
<ellipse cx="239" cy="566" rx="12.0" ry="13" fill="#2a4cff" opacity="0.5"/>
<ellipse cx="269.3" cy="532" rx="13.0" ry="16" fill="#2c1060" opacity="0.6"/>
<ellipse cx="269.3" cy="565" rx="14.0" ry="13" fill="#2a4cff" opacity="0.5"/>
<ellipse cx="300" cy="529" rx="10.0" ry="16" fill="#2c1060" opacity="0.6"/>
<ellipse cx="300" cy="560" rx="11.0" ry="13" fill="#2a4cff" opacity="0.5"/>
</g>
<g filter="url(#speck)" opacity="0.45">
<path d="M162.0,503.0 C171.9,503.0 171.0,525.0 171.0,539.0 L169.5,574.0 Q168.5,586.0 162.0,586.0 Q155.5,586.0 154.5,574.0 L153.0,539.0 C153.0,525.0 152.1,503.0 162.0,503.0 Z" fill="#000" opacity="1"/>
<path d="M178.0,506.0 C193.9,506.0 192.5,528.0 192.5,542.0 L191.0,574.0 Q190.0,586.0 178.0,586.0 Q166.0,586.0 165.0,574.0 L163.5,542.0 C163.5,528.0 162.1,506.0 178.0,506.0 Z" fill="#000" opacity="1"/>
<path d="M208.5,505.0 C226.1,505.0 224.5,527.0 224.5,541.0 L223.0,567.0 Q222.0,579.0 208.5,579.0 Q195.0,579.0 194.0,567.0 L192.5,541.0 C192.5,527.0 190.9,505.0 208.5,505.0 Z" fill="#000" opacity="1"/>
<path d="M239.0,503.0 C255.5,503.0 254.0,525.0 254.0,539.0 L252.5,568.0 Q251.5,580.0 239.0,580.0 Q226.5,580.0 225.5,568.0 L224.0,539.0 C224.0,525.0 222.5,503.0 239.0,503.0 Z" fill="#000" opacity="1"/>
<path d="M269.3,502.0 C288.0,502.0 286.3,524.0 286.3,538.0 L284.8,567.0 Q283.8,579.0 269.3,579.0 Q254.8,579.0 253.8,567.0 L252.3,538.0 C252.3,524.0 250.6,502.0 269.3,502.0 Z" fill="#000" opacity="1"/>
<path d="M300.0,499.0 C315.4,499.0 314.0,521.0 314.0,535.0 L312.5,562.0 Q311.5,574.0 300.0,574.0 Q288.5,574.0 287.5,562.0 L286.0,535.0 C286.0,521.0 284.6,499.0 300.0,499.0 Z" fill="#000" opacity="1"/>
</g>
<g filter="url(#b1)">
<path d="M155.2,564.0 L154.0,541.0 C154.0,527.0 153.2,505.0 162.0,505.0 C170.8,505.0 170.0,527.0 170.0,541.0 L168.8,564.0" stroke="#36c0a0" stroke-width="1.0" fill="none" opacity="0.75"/>
<path d="M165.7,564.0 L164.5,544.0 C164.5,530.0 163.2,508.0 178.0,508.0 C192.8,508.0 191.5,530.0 191.5,544.0 L190.3,564.0" stroke="#36c0a0" stroke-width="1.0" fill="none" opacity="0.75"/>
<path d="M194.7,557.0 L193.5,543.0 C193.5,529.0 192.0,507.0 208.5,507.0 C225.0,507.0 223.5,529.0 223.5,543.0 L222.3,557.0" stroke="#36c0a0" stroke-width="1.0" fill="none" opacity="0.75"/>
<path d="M226.2,558.0 L225.0,541.0 C225.0,527.0 223.6,505.0 239.0,505.0 C254.4,505.0 253.0,527.0 253.0,541.0 L251.8,558.0" stroke="#36c0a0" stroke-width="1.0" fill="none" opacity="0.75"/>
<path d="M254.5,557.0 L253.3,540.0 C253.3,526.0 251.7,504.0 269.3,504.0 C286.9,504.0 285.3,526.0 285.3,540.0 L284.1,557.0" stroke="#36c0a0" stroke-width="1.0" fill="none" opacity="0.75"/>
<path d="M288.2,552.0 L287.0,537.0 C287.0,523.0 285.7,501.0 300.0,501.0 C314.3,501.0 313.0,523.0 313.0,537.0 L311.8,552.0" stroke="#36c0a0" stroke-width="1.0" fill="none" opacity="0.75"/>
</g>
<g filter="url(#b05)"><circle cx="170.0" cy="577.2" r="1.43" fill="#e0ffff"/><circle cx="171.2" cy="576.2" r="1.41" fill="#ff40a0"/><circle cx="181.2" cy="581.9" r="1.22" fill="#ff2040"/><circle cx="181.5" cy="583.5" r="1.26" fill="#20e040"/><circle cx="171.2" cy="579.2" r="1.23" fill="#ff2040"/><circle cx="170.3" cy="580.8" r="1.14" fill="#20e040"/><circle cx="185.4" cy="577.7" r="1.06" fill="#ff3068"/><circle cx="178.1" cy="582.4" r="1.22" fill="#ff2040"/><circle cx="178.8" cy="584.0" r="1.26" fill="#20e040"/><circle cx="166.1" cy="568.9" r="1.19" fill="#30f050"/><circle cx="180.0" cy="581.6" r="1.29" fill="#ff2040"/><circle cx="180.9" cy="583.2" r="1.31" fill="#20e040"/><circle cx="185.1" cy="577.5" r="1.44" fill="#ff3068"/><circle cx="171.6" cy="577.9" r="1.20" fill="#ff2040"/><circle cx="172.4" cy="579.5" r="1.28" fill="#20e040"/><circle cx="189.9" cy="569.7" r="1.18" fill="#ff3068"/><circle cx="187.0" cy="575.4" r="1.34" fill="#ff2040"/><circle cx="186.9" cy="577.0" r="1.29" fill="#20e040"/><circle cx="166.8" cy="570.4" r="1.12" fill="#ff2040"/><circle cx="167.2" cy="572.0" r="1.12" fill="#20e040"/><circle cx="177.9" cy="582.1" r="1.13" fill="#ff2040"/><circle cx="178.9" cy="583.7" r="1.10" fill="#20e040"/><circle cx="188.8" cy="571.2" r="1.16" fill="#ff2040"/><circle cx="187.5" cy="572.8" r="1.28" fill="#20e040"/><circle cx="170.8" cy="565.5" r="1.18" fill="#30f050"/><circle cx="170.1" cy="568.8" r="1.17" fill="#ff2040"/><circle cx="169.5" cy="570.4" r="1.36" fill="#20e040"/><circle cx="177.0" cy="557.6" r="1.15" fill="#ff3068"/><circle cx="204.3" cy="574.6" r="1.33" fill="#ff2040"/><circle cx="205.1" cy="576.2" r="1.38" fill="#20e040"/><circle cx="200.0" cy="569.4" r="1.42" fill="#ff2040"/><circle cx="200.2" cy="571.0" r="1.29" fill="#20e040"/><circle cx="218.4" cy="567.9" r="1.12" fill="#e0ffff"/><circle cx="219.6" cy="566.9" r="1.44" fill="#ff40a0"/><circle cx="216.1" cy="570.9" r="1.06" fill="#ff2040"/><circle cx="215.8" cy="572.5" r="1.37" fill="#20e040"/><circle cx="221.2" cy="564.6" r="1.44" fill="#ff3068"/><circle cx="215.4" cy="573.0" r="1.43" fill="#30f050"/><circle cx="210.7" cy="576.2" r="1.45" fill="#ff3068"/><circle cx="198.3" cy="568.0" r="1.19" fill="#30f050"/><circle cx="217.3" cy="569.3" r="1.20" fill="#e0ffff"/><circle cx="218.5" cy="568.3" r="1.13" fill="#ff40a0"/><circle cx="219.9" cy="566.9" r="1.13" fill="#ff2040"/><circle cx="219.8" cy="568.5" r="1.42" fill="#20e040"/><circle cx="206.1" cy="575.2" r="1.14" fill="#e0ffff"/><circle cx="207.3" cy="574.2" r="1.09" fill="#ff40a0"/><circle cx="207.2" cy="575.6" r="1.12" fill="#ff3068"/><circle cx="221.9" cy="562.0" r="1.38" fill="#ff3068"/><circle cx="195.7" cy="562.5" r="1.41" fill="#ff2040"/><circle cx="195.5" cy="564.1" r="1.23" fill="#20e040"/><circle cx="213.7" cy="563.8" r="1.38" fill="#ff2040"/><circle cx="214.9" cy="565.4" r="1.41" fill="#20e040"/><circle cx="208.4" cy="551.8" r="1.22" fill="#ff3068"/><circle cx="209.7" cy="558.0" r="1.38" fill="#ff3068"/><circle cx="232.1" cy="572.9" r="1.15" fill="#ff3068"/><circle cx="240.4" cy="577.1" r="1.36" fill="#ff2040"/><circle cx="240.1" cy="578.7" r="1.27" fill="#20e040"/><circle cx="231.0" cy="570.5" r="1.38" fill="#ff3068"/><circle cx="235.2" cy="576.7" r="1.18" fill="#ff2040"/><circle cx="235.6" cy="578.3" r="1.27" fill="#20e040"/><circle cx="235.2" cy="575.9" r="1.15" fill="#30f050"/><circle cx="234.2" cy="574.0" r="1.08" fill="#e0ffff"/><circle cx="235.4" cy="573.0" r="1.27" fill="#ff40a0"/><circle cx="228.1" cy="567.2" r="1.14" fill="#ff3068"/><circle cx="245.9" cy="572.4" r="1.24" fill="#ff3068"/><circle cx="243.6" cy="575.5" r="1.05" fill="#ff2040"/><circle cx="244.2" cy="577.1" r="1.20" fill="#20e040"/><circle cx="249.0" cy="569.2" r="1.11" fill="#30f050"/><circle cx="236.7" cy="577.7" r="1.13" fill="#e0ffff"/><circle cx="237.9" cy="576.7" r="1.32" fill="#ff40a0"/><circle cx="250.5" cy="565.3" r="1.22" fill="#ff2040"/><circle cx="250.4" cy="566.9" r="1.08" fill="#20e040"/><circle cx="248.6" cy="568.8" r="1.24" fill="#ff3068"/><circle cx="235.9" cy="575.5" r="1.27" fill="#ff3068"/><circle cx="247.3" cy="542.4" r="1.26" fill="#ff3068"/><circle cx="229.5" cy="559.7" r="1.08" fill="#ff2040"/><circle cx="230.7" cy="561.3" r="1.40" fill="#20e040"/><circle cx="245.0" cy="551.0" r="1.25" fill="#e0ffff"/><circle cx="246.2" cy="550.0" r="1.36" fill="#ff40a0"/><circle cx="279.1" cy="568.6" r="1.29" fill="#ff3068"/><circle cx="262.3" cy="572.2" r="1.19" fill="#ff2040"/><circle cx="261.7" cy="573.8" r="1.17" fill="#20e040"/><circle cx="267.0" cy="574.8" r="1.19" fill="#e0ffff"/><circle cx="268.2" cy="573.8" r="1.21" fill="#ff40a0"/><circle cx="256.8" cy="565.2" r="1.24" fill="#ff2040"/><circle cx="257.8" cy="566.8" r="1.27" fill="#20e040"/><circle cx="280.9" cy="568.2" r="1.09" fill="#ff2040"/><circle cx="280.2" cy="569.8" r="1.14" fill="#20e040"/><circle cx="276.4" cy="572.6" r="1.25" fill="#ff2040"/><circle cx="277.5" cy="574.2" r="1.09" fill="#20e040"/><circle cx="262.1" cy="573.7" r="1.10" fill="#ff3068"/><circle cx="270.0" cy="576.5" r="1.23" fill="#ff3068"/><circle cx="255.6" cy="562.8" r="1.15" fill="#e0ffff"/><circle cx="256.8" cy="561.8" r="1.39" fill="#ff40a0"/><circle cx="279.1" cy="570.3" r="1.30" fill="#ff2040"/><circle cx="280.6" cy="571.9" r="1.07" fill="#20e040"/><circle cx="280.4" cy="568.1" r="1.16" fill="#30f050"/><circle cx="267.2" cy="575.9" r="1.38" fill="#ff2040"/><circle cx="266.1" cy="577.5" r="1.09" fill="#20e040"/><circle cx="279.4" cy="568.7" r="1.21" fill="#30f050"/><circle cx="270.3" cy="575.4" r="1.17" fill="#ff3068"/><circle cx="276.3" cy="537.3" r="1.31" fill="#ff2040"/><circle cx="277.5" cy="538.9" r="1.12" fill="#20e040"/><circle cx="274.1" cy="562.8" r="1.41" fill="#e0ffff"/><circle cx="275.3" cy="561.8" r="1.12" fill="#ff40a0"/><circle cx="256.9" cy="553.0" r="1.11" fill="#ff2040"/><circle cx="257.2" cy="554.6" r="1.34" fill="#20e040"/><circle cx="303.3" cy="570.7" r="1.33" fill="#ff3068"/><circle cx="301.9" cy="570.0" r="1.36" fill="#ff3068"/><circle cx="297.8" cy="571.6" r="1.29" fill="#30f050"/><circle cx="309.3" cy="560.9" r="1.18" fill="#ff3068"/><circle cx="290.7" cy="560.8" r="1.39" fill="#ff2040"/><circle cx="289.5" cy="562.4" r="1.13" fill="#20e040"/><circle cx="289.1" cy="558.3" r="1.30" fill="#ff2040"/><circle cx="288.5" cy="559.9" r="1.26" fill="#20e040"/><circle cx="291.7" cy="564.7" r="1.22" fill="#e0ffff"/><circle cx="292.9" cy="563.7" r="1.19" fill="#ff40a0"/><circle cx="303.6" cy="568.8" r="1.35" fill="#ff3068"/><circle cx="300.9" cy="570.5" r="1.17" fill="#e0ffff"/><circle cx="302.1" cy="569.5" r="1.40" fill="#ff40a0"/><circle cx="299.9" cy="570.3" r="1.44" fill="#e0ffff"/><circle cx="301.1" cy="569.3" r="1.10" fill="#ff40a0"/><circle cx="292.3" cy="564.0" r="1.38" fill="#ff2040"/><circle cx="293.1" cy="565.6" r="1.07" fill="#20e040"/><circle cx="297.2" cy="570.7" r="1.35" fill="#ff2040"/><circle cx="297.9" cy="572.3" r="1.26" fill="#20e040"/><circle cx="301.2" cy="569.8" r="1.07" fill="#ff2040"/><circle cx="300.9" cy="571.4" r="1.18" fill="#20e040"/><circle cx="304.9" cy="569.4" r="1.29" fill="#ff2040"/><circle cx="305.8" cy="571.0" r="1.22" fill="#20e040"/><circle cx="305.5" cy="553.8" r="1.32" fill="#ff2040"/><circle cx="304.9" cy="555.4" r="1.23" fill="#20e040"/><circle cx="290.2" cy="545.6" r="1.28" fill="#ff2040"/><circle cx="291.1" cy="547.2" r="1.44" fill="#20e040"/><circle cx="291.3" cy="553.1" r="1.30" fill="#ff3068"/><circle cx="157.8" cy="577.6" r="1.42" fill="#ff2040"/><circle cx="158.1" cy="579.2" r="1.44" fill="#20e040"/><circle cx="158.8" cy="580.1" r="1.22" fill="#ff3068"/><circle cx="159.6" cy="580.0" r="1.21" fill="#ff2040"/><circle cx="160.6" cy="581.6" r="1.20" fill="#20e040"/><circle cx="160.6" cy="581.9" r="1.21" fill="#ff2040"/><circle cx="159.2" cy="583.5" r="1.44" fill="#20e040"/><circle cx="167.2" cy="573.5" r="1.33" fill="#30f050"/></g>
</g>
<rect x="160.5" y="464.5" width="152" height="152" fill="none" stroke="#1c1c1c" stroke-width="1"/>
<text class="serif" x="163.8" y="480.0" font-size="10" font-family="Liberation Serif, serif" textLength="116" lengthAdjust="spacingAndGlyphs"><tspan fill="#1c3aa0">Myosin VIIA</tspan><tspan fill="#c8c8c8">/</tspan><tspan fill="#d21c1c">CtBP2</tspan><tspan fill="#c8c8c8">/</tspan><tspan fill="#22a032">GluR2</tspan></text>
<text x="299.8" y="610.5" font-size="9.5" text-anchor="middle" fill="#fff">5μm</text>
<rect x="291.0" y="613.7" width="17.6" height="1.6" fill="#fff"/>
<g clip-path="url(#clip3)">
<rect x="5" y="657" width="153" height="152" fill="#020105"/>
<g filter="url(#b3)">
<rect x="5" y="790" width="153" height="20" fill="#1c0306" opacity="0.7"/>
</g>
<g filter="url(#tex2)">
<path d="M3.0,708.0 A13.0,13.0 0 0 1 29.0,708.0 L29.0,784.0 Q29.0,797.0 16.0,797.0 Q3.0,797.0 3.0,784.0 Z" fill="#1a22bc" opacity="1"/>
<path d="M27.0,709.0 A14.0,14.0 0 0 1 55.0,709.0 L55.0,762.0 Q55.0,776.0 41.0,776.0 Q27.0,776.0 27.0,762.0 Z" fill="#1c30e8" opacity="1"/>
<path d="M57.0,710.0 A15.0,15.0 0 0 1 87.0,710.0 L87.0,767.0 Q87.0,782.0 72.0,782.0 Q57.0,782.0 57.0,767.0 Z" fill="#1a2ad8" opacity="1"/>
<path d="M86.0,710.0 A15.0,15.0 0 0 1 116.0,710.0 L116.0,763.0 Q116.0,778.0 101.0,778.0 Q86.0,778.0 86.0,763.0 Z" fill="#1a2ad8" opacity="1"/>
<path d="M116.0,716.0 A21.0,21.0 0 0 1 158.0,716.0 L158.0,776.0 Q158.0,797.0 137.0,797.0 Q116.0,797.0 116.0,776.0 Z" fill="#1a2ad8" opacity="1"/>
<path d="M153.0,702.0 A7.0,7.0 0 0 1 167.0,702.0 L167.0,790.0 Q167.0,797.0 160.0,797.0 Q153.0,797.0 153.0,790.0 Z" fill="#1a2ad8" opacity="1"/>
<ellipse cx="40" cy="748" rx="14" ry="22" fill="#2a48ff" opacity="0.95"/>
<ellipse cx="72" cy="758" rx="15" ry="18" fill="#2a48ff" opacity="0.75"/>
<ellipse cx="100" cy="756" rx="15" ry="18" fill="#2a48ff" opacity="0.75"/>
<ellipse cx="140" cy="765" rx="17" ry="24" fill="#2a48ff" opacity="0.85"/>
<ellipse cx="16" cy="770" rx="10" ry="18" fill="#2a48ff" opacity="0.6"/>
<circle cx="20" cy="685.7" r="13.6" fill="#1a1cc4"/>
<circle cx="46.6" cy="684.5" r="13.6" fill="#1a1cc4"/>
<circle cx="75" cy="683.5" r="13.6" fill="#1a1cc4"/>
<circle cx="105" cy="685" r="13.6" fill="#1a1cc4"/>
<circle cx="132" cy="686" r="13.6" fill="#1a1cc4"/>
<circle cx="154" cy="688" r="13.6" fill="#1a1cc4"/>
<path d="M29,700 L29,800" stroke="#02020a" stroke-width="2.2" opacity="0.8"/>
<path d="M57,700 L57,745" stroke="#02020a" stroke-width="2.2" opacity="0.8"/>
<path d="M89.7,700 L89.7,745" stroke="#02020a" stroke-width="2.2" opacity="0.8"/>
<path d="M118.9,700 L118.9,790" stroke="#02020a" stroke-width="2.2" opacity="0.8"/>
<circle cx="9.8" cy="728" r="11" fill="#8a1c60" opacity="0.8"/>
<circle cx="46.6" cy="717.5" r="12" fill="#8a1c60" opacity="0.8"/>
<circle cx="73" cy="715" r="12" fill="#8a1c60" opacity="0.8"/>
<circle cx="104.3" cy="719.6" r="12" fill="#8a1c60" opacity="0.8"/>
<circle cx="135.2" cy="723" r="12" fill="#8a1c60" opacity="0.8"/>
<circle cx="156" cy="717" r="11" fill="#8a1c60" opacity="0.8"/>
</g>
<g filter="url(#b1)">
<path d="M34,700 Q35,730 33,770" stroke="#2a8aa0" stroke-width="0.7" fill="none" opacity="0.35"/>
<path d="M62,700 Q63,730 61,770" stroke="#2a8aa0" stroke-width="0.7" fill="none" opacity="0.35"/>
<path d="M90,700 Q91,730 89,770" stroke="#2a8aa0" stroke-width="0.7" fill="none" opacity="0.35"/>
<path d="M120,700 Q121,730 119,770" stroke="#2a8aa0" stroke-width="0.7" fill="none" opacity="0.35"/>
<path d="M146,700 Q147,730 145,770" stroke="#2a8aa0" stroke-width="0.7" fill="none" opacity="0.35"/>
</g>
<g filter="url(#b05)"><circle cx="19.2" cy="782.1" r="1.30" fill="#ff3068"/><circle cx="22.3" cy="792.1" r="1.16" fill="#ff3068"/><circle cx="21.3" cy="791.1" r="1.41" fill="#ff3068"/><circle cx="8.5" cy="768.3" r="1.12" fill="#ff3068"/><circle cx="25.0" cy="777.4" r="1.30" fill="#ff3068"/><circle cx="24.2" cy="750.7" r="1.44" fill="#ff3068"/><circle cx="16.4" cy="757.3" r="1.23" fill="#ff3068"/><circle cx="17.8" cy="773.7" r="1.30" fill="#ff3068"/><circle cx="30.3" cy="750.9" r="1.17" fill="#ff3068"/><circle cx="36.1" cy="769.7" r="1.07" fill="#ff3068"/><circle cx="46.8" cy="749.3" r="1.34" fill="#ff3068"/><circle cx="47.5" cy="748.7" r="1.39" fill="#ff3068"/><circle cx="43.6" cy="748.4" r="1.27" fill="#ff3068"/><circle cx="30.0" cy="768.5" r="1.10" fill="#ff3068"/><circle cx="64.3" cy="752.5" r="1.44" fill="#e0ffff"/><circle cx="65.5" cy="751.5" r="1.16" fill="#ff40a0"/><circle cx="87.5" cy="775.5" r="1.41" fill="#e0ffff"/><circle cx="88.7" cy="774.5" r="1.35" fill="#ff40a0"/><circle cx="66.7" cy="778.7" r="1.18" fill="#e0ffff"/><circle cx="67.9" cy="777.7" r="1.15" fill="#ff40a0"/><circle cx="74.2" cy="768.7" r="1.05" fill="#e0ffff"/><circle cx="75.4" cy="767.7" r="1.26" fill="#ff40a0"/><circle cx="64.1" cy="777.9" r="1.21" fill="#ff3068"/><circle cx="78.7" cy="778.8" r="1.09" fill="#e0ffff"/><circle cx="79.9" cy="777.8" r="1.06" fill="#ff40a0"/><circle cx="84.8" cy="755.5" r="1.35" fill="#ff3068"/><circle cx="68.8" cy="750.8" r="1.10" fill="#ff3068"/><circle cx="62.4" cy="747.3" r="1.10" fill="#e0ffff"/><circle cx="63.6" cy="746.3" r="1.18" fill="#ff40a0"/><circle cx="67.0" cy="766.1" r="1.16" fill="#e0ffff"/><circle cx="68.2" cy="765.1" r="1.13" fill="#ff40a0"/><circle cx="90.1" cy="765.3" r="1.31" fill="#e0ffff"/><circle cx="91.3" cy="764.3" r="1.23" fill="#ff40a0"/><circle cx="98.4" cy="754.3" r="1.19" fill="#ff3068"/><circle cx="110.5" cy="759.4" r="1.36" fill="#ff3068"/><circle cx="97.9" cy="759.4" r="1.08" fill="#ff3068"/><circle cx="107.6" cy="746.7" r="1.20" fill="#ff3068"/><circle cx="114.4" cy="745.7" r="1.09" fill="#ff3068"/><circle cx="108.7" cy="770.3" r="1.06" fill="#ff3068"/><circle cx="90.5" cy="768.6" r="1.23" fill="#ff3068"/><circle cx="131.9" cy="773.9" r="1.41" fill="#ff3068"/><circle cx="118.3" cy="747.3" r="1.12" fill="#ff3068"/><circle cx="124.9" cy="792.8" r="1.29" fill="#ff3068"/><circle cx="125.5" cy="782.8" r="1.08" fill="#e0ffff"/><circle cx="126.7" cy="781.8" r="1.29" fill="#ff40a0"/><circle cx="153.3" cy="792.1" r="1.24" fill="#ff3068"/><circle cx="131.1" cy="762.7" r="1.25" fill="#ff3068"/><circle cx="137.9" cy="783.8" r="1.40" fill="#e0ffff"/><circle cx="139.1" cy="782.8" r="1.43" fill="#ff40a0"/><circle cx="122.1" cy="782.4" r="1.06" fill="#ff3068"/><circle cx="148.3" cy="788.0" r="1.37" fill="#ff3068"/><circle cx="119.4" cy="792.3" r="1.09" fill="#ff3068"/><circle cx="121.5" cy="762.0" r="1.33" fill="#e0ffff"/><circle cx="122.7" cy="761.0" r="1.30" fill="#ff40a0"/><circle cx="141.2" cy="790.9" r="1.30" fill="#e0ffff"/><circle cx="142.4" cy="789.9" r="1.35" fill="#ff40a0"/><circle cx="130.9" cy="791.2" r="1.38" fill="#ff3068"/><circle cx="138.7" cy="760.6" r="1.37" fill="#ff3068"/></g>
</g>
<rect x="5.5" y="657.5" width="152" height="151" fill="none" stroke="#1c1c1c" stroke-width="1"/>
<text class="serif" x="8.8" y="673.0" font-size="10" font-family="Liberation Serif, serif" textLength="116" lengthAdjust="spacingAndGlyphs"><tspan fill="#1c3aa0">Myosin VIIA</tspan><tspan fill="#c8c8c8">/</tspan><tspan fill="#d21c1c">CtBP2</tspan><tspan fill="#c8c8c8">/</tspan><tspan fill="#22a032">GluR2</tspan></text>
<text x="142.7" y="803.5" font-size="9.5" text-anchor="middle" fill="#fff">5μm</text>
<rect x="134.4" y="805.9" width="16.6" height="1.6" fill="#fff"/>
<g clip-path="url(#clip4)">
<rect x="160" y="657" width="153" height="153" fill="#020105"/>
<g filter="url(#b3)">
<rect x="160" y="790" width="153" height="20" fill="#1a0306" opacity="0.7"/>
</g>
<g filter="url(#tex2)">
<path d="M152.0,703.0 A8.0,8.0 0 0 1 168.0,703.0 L168.0,778.0 Q168.0,786.0 160.0,786.0 Q152.0,786.0 152.0,778.0 Z" fill="#1a2ad6" opacity="1"/>
<path d="M169.5,710.5 A15.5,15.5 0 0 1 200.5,710.5 L200.5,774.5 Q200.5,790.0 185.0,790.0 Q169.5,790.0 169.5,774.5 Z" fill="#1a2ad6" opacity="1"/>
<path d="M200.0,710.0 A15.0,15.0 0 0 1 230.0,710.0 L230.0,777.0 Q230.0,792.0 215.0,792.0 Q200.0,792.0 200.0,777.0 Z" fill="#1a2ad6" opacity="1"/>
<path d="M230.5,710.5 A15.5,15.5 0 0 1 261.5,710.5 L261.5,776.5 Q261.5,792.0 246.0,792.0 Q230.5,792.0 230.5,776.5 Z" fill="#1a2ad6" opacity="1"/>
<path d="M262.0,710.0 A15.0,15.0 0 0 1 292.0,710.0 L292.0,772.0 Q292.0,787.0 277.0,787.0 Q262.0,787.0 262.0,772.0 Z" fill="#1a2ad6" opacity="1"/>
<path d="M292.0,707.0 A12.0,12.0 0 0 1 316.0,707.0 L316.0,768.0 Q316.0,780.0 304.0,780.0 Q292.0,780.0 292.0,768.0 Z" fill="#1a2ad6" opacity="1"/>
<path d="M160,748 L313,748 L313,778 L300,774 L290,784 L270,787 L250,790 L230,792 L210,792 L190,790 L175,786 L160,778 Z" fill="#2a48ff" opacity="0.6"/>
<circle cx="162.7" cy="690" r="13.5" fill="#1c26c8"/>
<circle cx="184.3" cy="689.2" r="13.5" fill="#1c26c8"/>
<circle cx="215.2" cy="688" r="13.5" fill="#1c26c8"/>
<circle cx="248" cy="688" r="13.5" fill="#1c26c8"/>
<circle cx="277.2" cy="690" r="13.5" fill="#1c26c8"/>
<circle cx="302.9" cy="688" r="13.5" fill="#1c26c8"/>
<ellipse cx="186" cy="715" rx="11" ry="12" fill="#3a1a88" opacity="0.55"/>
<ellipse cx="213" cy="715" rx="11" ry="12" fill="#3a1a88" opacity="0.55"/>
<ellipse cx="245.7" cy="717" rx="11" ry="12" fill="#3a1a88" opacity="0.55"/>
<ellipse cx="277.2" cy="715" rx="11" ry="12" fill="#3a1a88" opacity="0.55"/>
<ellipse cx="304" cy="718" rx="11" ry="12" fill="#3a1a88" opacity="0.55"/>
<path d="M170,697 L170,722" stroke="#02020a" stroke-width="2.2" opacity="0.7"/>
<path d="M200.5,697 L200.5,722" stroke="#02020a" stroke-width="2.2" opacity="0.7"/>
<path d="M230,697 L230,722" stroke="#02020a" stroke-width="2.2" opacity="0.7"/>
<path d="M262,697 L262,722" stroke="#02020a" stroke-width="2.2" opacity="0.7"/>
<path d="M292.7,697 L292.7,722" stroke="#02020a" stroke-width="2.2" opacity="0.7"/>
</g>
<g filter="url(#speck)" opacity="0.45">
<circle cx="162.7" cy="690" r="13" fill="#000"/>
<circle cx="184.3" cy="689.2" r="13" fill="#000"/>
<circle cx="215.2" cy="688" r="13" fill="#000"/>
<circle cx="248" cy="688" r="13" fill="#000"/>
<circle cx="277.2" cy="690" r="13" fill="#000"/>
<circle cx="302.9" cy="688" r="13" fill="#000"/>
<rect x="160" y="700" width="153" height="85" fill="#000" opacity="0.6"/>
</g>
<g filter="url(#b1)">
<path d="M168.6,702 Q164.7,720.5 170,745" stroke="#48ff78" stroke-width="1.5" fill="none" opacity="0.9"/>
<path d="M200.5,702 Q199.3,729.0 207.6,752" stroke="#48ff78" stroke-width="1.5" fill="none" opacity="0.9"/>
<path d="M230,702 Q225.0,720.0 236,746" stroke="#48ff78" stroke-width="1.5" fill="none" opacity="0.9"/>
<path d="M262,702 Q264.1,730.0 259.7,750" stroke="#48ff78" stroke-width="1.5" fill="none" opacity="0.9"/>
<path d="M292.7,702 Q293.8,739.0 299.8,760" stroke="#48ff78" stroke-width="1.5" fill="none" opacity="0.9"/>
</g>
<g filter="url(#b05)"><circle cx="179.6" cy="761.1" r="0.84" fill="#ff2040"/><circle cx="180.2" cy="762.7" r="0.94" fill="#20e040"/><circle cx="167.3" cy="782.3" r="1.04" fill="#ff3068"/><circle cx="162.2" cy="766.6" r="0.95" fill="#ff3068"/><circle cx="196.1" cy="748.5" r="0.91" fill="#ff2040"/><circle cx="195.9" cy="750.1" r="1.06" fill="#20e040"/><circle cx="183.1" cy="771.5" r="1.03" fill="#ff3068"/><circle cx="163.6" cy="761.3" r="1.06" fill="#ff2040"/><circle cx="162.6" cy="762.9" r="1.05" fill="#20e040"/><circle cx="188.7" cy="764.4" r="0.95" fill="#ff2040"/><circle cx="187.5" cy="766.0" r="0.95" fill="#20e040"/><circle cx="189.6" cy="751.8" r="0.98" fill="#30f050"/><circle cx="171.0" cy="749.8" r="0.97" fill="#ff3068"/><circle cx="181.2" cy="784.7" r="0.82" fill="#ff2040"/><circle cx="179.9" cy="786.3" r="1.08" fill="#20e040"/><circle cx="184.4" cy="778.3" r="0.89" fill="#30f050"/><circle cx="176.6" cy="777.1" r="0.96" fill="#e0ffff"/><circle cx="177.8" cy="776.1" r="0.83" fill="#ff40a0"/><circle cx="165.9" cy="757.5" r="0.98" fill="#e0ffff"/><circle cx="167.1" cy="756.5" r="1.08" fill="#ff40a0"/><circle cx="187.6" cy="776.2" r="0.83" fill="#ff3068"/><circle cx="178.0" cy="748.8" r="1.04" fill="#ff3068"/><circle cx="172.1" cy="754.0" r="0.90" fill="#e0ffff"/><circle cx="173.3" cy="753.0" r="0.96" fill="#ff40a0"/><circle cx="172.7" cy="779.8" r="0.85" fill="#30f050"/><circle cx="169.6" cy="783.1" r="1.03" fill="#30f050"/><circle cx="195.4" cy="747.4" r="0.91" fill="#ff2040"/><circle cx="195.7" cy="749.0" r="0.86" fill="#20e040"/><circle cx="176.4" cy="766.1" r="1.09" fill="#ff3068"/><circle cx="162.9" cy="763.3" r="0.83" fill="#ff3068"/><circle cx="196.4" cy="749.8" r="1.03" fill="#ff3068"/><circle cx="184.7" cy="750.2" r="1.01" fill="#e0ffff"/><circle cx="185.9" cy="749.2" r="0.81" fill="#ff40a0"/><circle cx="184.0" cy="783.5" r="0.98" fill="#e0ffff"/><circle cx="185.2" cy="782.5" r="0.83" fill="#ff40a0"/><circle cx="169.7" cy="745.4" r="1.00" fill="#ff2040"/><circle cx="168.5" cy="747.0" r="0.85" fill="#20e040"/><circle cx="165.2" cy="768.2" r="0.83" fill="#30f050"/><circle cx="200.9" cy="748.8" r="0.93" fill="#ff3068"/><circle cx="224.8" cy="786.4" r="1.07" fill="#ff2040"/><circle cx="223.3" cy="788.0" r="1.09" fill="#20e040"/><circle cx="221.0" cy="762.9" r="1.10" fill="#ff2040"/><circle cx="221.7" cy="764.5" r="1.07" fill="#20e040"/><circle cx="231.9" cy="749.2" r="0.90" fill="#e0ffff"/><circle cx="233.1" cy="748.2" r="1.02" fill="#ff40a0"/><circle cx="229.0" cy="752.8" r="1.08" fill="#ff3068"/><circle cx="230.4" cy="788.1" r="1.05" fill="#30f050"/><circle cx="202.7" cy="770.0" r="0.92" fill="#e0ffff"/><circle cx="203.9" cy="769.0" r="1.01" fill="#ff40a0"/><circle cx="230.3" cy="751.7" r="1.08" fill="#ff2040"/><circle cx="229.4" cy="753.3" r="0.92" fill="#20e040"/><circle cx="213.4" cy="789.8" r="0.97" fill="#ff3068"/><circle cx="249.9" cy="750.5" r="1.07" fill="#ff2040"/><circle cx="250.2" cy="752.1" r="0.90" fill="#20e040"/><circle cx="235.3" cy="787.8" r="0.85" fill="#ff2040"/><circle cx="234.3" cy="789.4" r="1.05" fill="#20e040"/><circle cx="211.8" cy="772.5" r="1.09" fill="#30f050"/><circle cx="202.2" cy="761.5" r="1.09" fill="#ff3068"/><circle cx="233.7" cy="771.6" r="0.86" fill="#ff2040"/><circle cx="232.8" cy="773.2" r="0.92" fill="#20e040"/><circle cx="238.7" cy="748.9" r="0.87" fill="#e0ffff"/><circle cx="239.9" cy="747.9" r="0.94" fill="#ff40a0"/><circle cx="217.4" cy="783.9" r="0.96" fill="#ff2040"/><circle cx="215.9" cy="785.5" r="0.98" fill="#20e040"/><circle cx="229.2" cy="765.3" r="1.07" fill="#ff3068"/><circle cx="220.1" cy="789.4" r="1.09" fill="#e0ffff"/><circle cx="221.3" cy="788.4" r="0.97" fill="#ff40a0"/><circle cx="228.7" cy="745.8" r="1.03" fill="#ff2040"/><circle cx="227.6" cy="747.4" r="0.85" fill="#20e040"/><circle cx="240.0" cy="759.8" r="0.84" fill="#ff2040"/><circle cx="240.6" cy="761.4" r="0.99" fill="#20e040"/><circle cx="221.7" cy="754.6" r="0.80" fill="#ff2040"/><circle cx="221.5" cy="756.2" r="0.91" fill="#20e040"/><circle cx="222.2" cy="759.6" r="0.84" fill="#ff2040"/><circle cx="221.5" cy="761.2" r="0.97" fill="#20e040"/><circle cx="204.4" cy="773.3" r="0.86" fill="#ff3068"/><circle cx="205.2" cy="780.3" r="1.01" fill="#ff2040"/><circle cx="204.5" cy="781.9" r="0.88" fill="#20e040"/><circle cx="201.3" cy="780.1" r="0.82" fill="#ff3068"/><circle cx="240.4" cy="767.4" r="0.84" fill="#30f050"/><circle cx="235.5" cy="756.2" r="0.94" fill="#ff2040"/><circle cx="236.2" cy="757.8" r="0.99" fill="#20e040"/><circle cx="236.9" cy="764.1" r="0.89" fill="#ff2040"/><circle cx="237.4" cy="765.7" r="0.94" fill="#20e040"/><circle cx="211.5" cy="788.4" r="1.03" fill="#ff2040"/><circle cx="212.8" cy="790.0" r="0.96" fill="#20e040"/><circle cx="220.0" cy="761.8" r="0.98" fill="#30f050"/><circle cx="243.0" cy="761.6" r="0.96" fill="#30f050"/><circle cx="233.4" cy="752.7" r="0.86" fill="#ff3068"/><circle cx="283.7" cy="751.7" r="0.99" fill="#e0ffff"/><circle cx="284.9" cy="750.7" r="1.05" fill="#ff40a0"/><circle cx="252.0" cy="783.9" r="0.81" fill="#ff3068"/><circle cx="256.9" cy="782.6" r="1.01" fill="#ff2040"/><circle cx="258.1" cy="784.2" r="1.07" fill="#20e040"/><circle cx="289.4" cy="767.3" r="0.87" fill="#e0ffff"/><circle cx="290.6" cy="766.3" r="1.10" fill="#ff40a0"/><circle cx="250.5" cy="742.7" r="1.02" fill="#ff3068"/><circle cx="258.3" cy="757.5" r="0.88" fill="#ff3068"/><circle cx="274.5" cy="783.5" r="0.94" fill="#ff3068"/><circle cx="264.2" cy="746.3" r="0.93" fill="#ff2040"/><circle cx="263.7" cy="747.9" r="0.88" fill="#20e040"/><circle cx="272.5" cy="746.2" r="0.91" fill="#ff2040"/><circle cx="273.4" cy="747.8" r="0.91" fill="#20e040"/><circle cx="253.5" cy="765.0" r="1.01" fill="#30f050"/><circle cx="277.8" cy="743.0" r="1.04" fill="#ff2040"/><circle cx="277.3" cy="744.6" r="0.87" fill="#20e040"/><circle cx="268.1" cy="771.7" r="0.91" fill="#ff3068"/><circle cx="280.6" cy="757.2" r="0.87" fill="#e0ffff"/><circle cx="281.8" cy="756.2" r="0.98" fill="#ff40a0"/><circle cx="285.5" cy="747.6" r="0.81" fill="#ff3068"/><circle cx="278.6" cy="774.7" r="1.04" fill="#ff2040"/><circle cx="279.8" cy="776.3" r="0.86" fill="#20e040"/><circle cx="285.2" cy="762.2" r="0.98" fill="#ff2040"/><circle cx="286.5" cy="763.8" r="1.01" fill="#20e040"/><circle cx="254.0" cy="742.2" r="0.88" fill="#e0ffff"/><circle cx="255.2" cy="741.2" r="0.95" fill="#ff40a0"/><circle cx="271.2" cy="747.8" r="0.86" fill="#e0ffff"/><circle cx="272.4" cy="746.8" r="0.88" fill="#ff40a0"/><circle cx="275.2" cy="743.8" r="1.05" fill="#e0ffff"/><circle cx="276.4" cy="742.8" r="0.95" fill="#ff40a0"/><circle cx="281.2" cy="750.0" r="0.89" fill="#ff2040"/><circle cx="282.2" cy="751.6" r="1.03" fill="#20e040"/><circle cx="250.5" cy="747.9" r="1.01" fill="#ff2040"/><circle cx="249.5" cy="749.5" r="0.92" fill="#20e040"/><circle cx="268.3" cy="765.2" r="0.94" fill="#ff2040"/><circle cx="268.1" cy="766.8" r="0.94" fill="#20e040"/><circle cx="265.5" cy="747.8" r="0.83" fill="#ff3068"/><circle cx="269.3" cy="782.6" r="0.95" fill="#ff3068"/><circle cx="301.8" cy="775.8" r="0.89" fill="#30f050"/><circle cx="290.6" cy="777.7" r="0.86" fill="#ff3068"/><circle cx="309.6" cy="760.7" r="1.00" fill="#ff3068"/><circle cx="301.5" cy="760.4" r="0.94" fill="#ff3068"/><circle cx="310.0" cy="742.5" r="0.91" fill="#e0ffff"/><circle cx="311.2" cy="741.5" r="0.82" fill="#ff40a0"/><circle cx="304.1" cy="760.6" r="1.07" fill="#ff2040"/><circle cx="302.8" cy="762.2" r="1.05" fill="#20e040"/><circle cx="296.6" cy="767.5" r="0.86" fill="#ff2040"/><circle cx="297.0" cy="769.1" r="1.06" fill="#20e040"/><circle cx="305.9" cy="743.9" r="0.99" fill="#ff2040"/><circle cx="304.5" cy="745.5" r="0.83" fill="#20e040"/><circle cx="305.4" cy="757.2" r="1.08" fill="#e0ffff"/><circle cx="306.6" cy="756.2" r="0.98" fill="#ff40a0"/><circle cx="300.8" cy="764.2" r="0.81" fill="#ff2040"/><circle cx="301.6" cy="765.8" r="0.83" fill="#20e040"/><circle cx="291.2" cy="762.9" r="1.06" fill="#ff2040"/><circle cx="289.9" cy="764.5" r="1.00" fill="#20e040"/><circle cx="298.2" cy="773.4" r="1.00" fill="#30f050"/></g>
</g>
<rect x="160.5" y="657.5" width="152" height="152" fill="none" stroke="#1c1c1c" stroke-width="1"/>
<text class="serif" x="163.8" y="673.0" font-size="10" font-family="Liberation Serif, serif" textLength="116" lengthAdjust="spacingAndGlyphs"><tspan fill="#1c3aa0">Myosin VIIA</tspan><tspan fill="#c8c8c8">/</tspan><tspan fill="#d21c1c">CtBP2</tspan><tspan fill="#c8c8c8">/</tspan><tspan fill="#22a032">GluR2</tspan></text>
<text x="300.8" y="803.5" font-size="9.5" text-anchor="middle" fill="#fff">5μm</text>
<rect x="292.4" y="806.0" width="16.7" height="1.6" fill="#fff"/>
<text x="78.00" y="456.50" font-size="15.3" text-anchor="middle" fill="#1a1a1a" >PND1</text>
<text x="232.00" y="456.50" font-size="15.3" text-anchor="middle" fill="#1a1a1a" >Treatment_PND1</text>
<text x="82.00" y="652.50" font-size="15.3" text-anchor="middle" fill="#1a1a1a" >PND14</text>
<text x="236.70" y="652.50" font-size="15.3" text-anchor="middle" fill="#1a1a1a" >Treatment_PND14</text>
<text x="0.50" y="447.00" font-size="16" text-anchor="start" fill="#1a1a1a" >G</text>
<text x="0.80" y="642.80" font-size="15" text-anchor="start" fill="#1a1a1a" >H</text>
<line x1="355.50" y1="490.00" x2="355.50" y2="601.50" stroke="#1a1a1a" stroke-width="1.3" />
<line x1="355.50" y1="601.50" x2="424.60" y2="601.50" stroke="#1a1a1a" stroke-width="1.3" />
<line x1="355.50" y1="601.50" x2="359.10" y2="601.50" stroke="#1a1a1a" stroke-width="1.3" />
<text x="348.50" y="605.30" font-size="11" text-anchor="end" fill="#1a1a1a" >0</text>
<line x1="355.50" y1="574.85" x2="359.10" y2="574.85" stroke="#1a1a1a" stroke-width="1.3" />
<text x="348.50" y="578.65" font-size="11" text-anchor="end" fill="#1a1a1a" >5</text>
<line x1="355.50" y1="548.20" x2="359.10" y2="548.20" stroke="#1a1a1a" stroke-width="1.3" />
<text x="348.50" y="552.00" font-size="11" text-anchor="end" fill="#1a1a1a" >10</text>
<line x1="355.50" y1="521.55" x2="359.10" y2="521.55" stroke="#1a1a1a" stroke-width="1.3" />
<text x="348.50" y="525.35" font-size="11" text-anchor="end" fill="#1a1a1a" >15</text>
<line x1="355.50" y1="494.90" x2="359.10" y2="494.90" stroke="#1a1a1a" stroke-width="1.3" />
<text x="348.50" y="498.70" font-size="11" text-anchor="end" fill="#1a1a1a" >20</text>
<rect x="365.7" y="521.5" width="18.9" height="80.0" fill="none" stroke="#7d90e2" stroke-width="1.5"/>
<circle cx="375.1" cy="505.6" r="1.75" fill="none" stroke="#7d90e2" stroke-width="1"/>
<circle cx="366.4" cy="516.2" r="1.75" fill="none" stroke="#7d90e2" stroke-width="1"/>
<circle cx="369.9" cy="516.2" r="1.75" fill="none" stroke="#7d90e2" stroke-width="1"/>
<circle cx="373.4" cy="516.2" r="1.75" fill="none" stroke="#7d90e2" stroke-width="1"/>
<circle cx="376.9" cy="516.2" r="1.75" fill="none" stroke="#7d90e2" stroke-width="1"/>
<circle cx="380.4" cy="516.2" r="1.75" fill="none" stroke="#7d90e2" stroke-width="1"/>
<circle cx="383.9" cy="516.2" r="1.75" fill="none" stroke="#7d90e2" stroke-width="1"/>
<circle cx="372.1" cy="521.5" r="1.75" fill="none" stroke="#7d90e2" stroke-width="1"/>
<circle cx="374.1" cy="521.5" r="1.75" fill="none" stroke="#7d90e2" stroke-width="1"/>
<circle cx="376.1" cy="521.5" r="1.75" fill="none" stroke="#7d90e2" stroke-width="1"/>
<circle cx="378.1" cy="521.5" r="1.75" fill="none" stroke="#7d90e2" stroke-width="1"/>
<circle cx="366.4" cy="526.9" r="1.75" fill="none" stroke="#7d90e2" stroke-width="1"/>
<circle cx="369.9" cy="526.9" r="1.75" fill="none" stroke="#7d90e2" stroke-width="1"/>
<circle cx="373.4" cy="526.9" r="1.75" fill="none" stroke="#7d90e2" stroke-width="1"/>
<circle cx="376.9" cy="526.9" r="1.75" fill="none" stroke="#7d90e2" stroke-width="1"/>
<circle cx="380.4" cy="526.9" r="1.75" fill="none" stroke="#7d90e2" stroke-width="1"/>
<circle cx="383.9" cy="526.9" r="1.75" fill="none" stroke="#7d90e2" stroke-width="1"/>
<circle cx="375.1" cy="532.2" r="1.75" fill="none" stroke="#7d90e2" stroke-width="1"/>
<rect x="395.0" y="516.2" width="18.9" height="85.3" fill="none" stroke="#dc3b6f" stroke-width="1.5"/>
<circle cx="402.7" cy="505.6" r="1.75" fill="none" stroke="#dc3b6f" stroke-width="1"/>
<circle cx="406.2" cy="505.6" r="1.75" fill="none" stroke="#dc3b6f" stroke-width="1"/>
<circle cx="399.4" cy="510.9" r="1.75" fill="none" stroke="#dc3b6f" stroke-width="1"/>
<circle cx="404.4" cy="510.9" r="1.75" fill="none" stroke="#dc3b6f" stroke-width="1"/>
<circle cx="409.4" cy="510.9" r="1.75" fill="none" stroke="#dc3b6f" stroke-width="1"/>
<circle cx="395.7" cy="516.2" r="1.75" fill="none" stroke="#dc3b6f" stroke-width="1"/>
<circle cx="399.2" cy="516.2" r="1.75" fill="none" stroke="#dc3b6f" stroke-width="1"/>
<circle cx="402.7" cy="516.2" r="1.75" fill="none" stroke="#dc3b6f" stroke-width="1"/>
<circle cx="406.2" cy="516.2" r="1.75" fill="none" stroke="#dc3b6f" stroke-width="1"/>
<circle cx="409.7" cy="516.2" r="1.75" fill="none" stroke="#dc3b6f" stroke-width="1"/>
<circle cx="413.2" cy="516.2" r="1.75" fill="none" stroke="#dc3b6f" stroke-width="1"/>
<circle cx="401.4" cy="516.2" r="1.75" fill="none" stroke="#dc3b6f" stroke-width="1"/>
<circle cx="403.4" cy="516.2" r="1.75" fill="none" stroke="#dc3b6f" stroke-width="1"/>
<circle cx="405.4" cy="516.2" r="1.75" fill="none" stroke="#dc3b6f" stroke-width="1"/>
<circle cx="407.4" cy="516.2" r="1.75" fill="none" stroke="#dc3b6f" stroke-width="1"/>
<circle cx="399.2" cy="521.5" r="1.75" fill="none" stroke="#dc3b6f" stroke-width="1"/>
<circle cx="402.7" cy="521.5" r="1.75" fill="none" stroke="#dc3b6f" stroke-width="1"/>
<circle cx="406.2" cy="521.5" r="1.75" fill="none" stroke="#dc3b6f" stroke-width="1"/>
<circle cx="409.7" cy="521.5" r="1.75" fill="none" stroke="#dc3b6f" stroke-width="1"/>
<circle cx="402.7" cy="526.9" r="1.75" fill="none" stroke="#dc3b6f" stroke-width="1"/>
<circle cx="406.2" cy="526.9" r="1.75" fill="none" stroke="#dc3b6f" stroke-width="1"/>
<circle cx="404.4" cy="532.2" r="1.75" fill="none" stroke="#dc3b6f" stroke-width="1"/>
<text x="0.00" y="0.00" font-size="11.1" text-anchor="middle" fill="#1a1a1a" transform="translate(331.2,549.3) rotate(-90)"># of Synapic Ribbon per IHC</text>
<text x="0.00" y="0.00" font-size="10.5" text-anchor="end" fill="#1a1a1a" transform="translate(384,607) rotate(-30)">PND1</text>
<text x="0.00" y="0.00" font-size="10.5" text-anchor="end" fill="#1a1a1a" transform="translate(410.5,608.5) rotate(-30)">Treatment_</text>
<text x="0.00" y="0.00" font-size="10.5" text-anchor="end" fill="#1a1a1a" transform="translate(404.5,624.2) rotate(-30)">PND1</text>
<text x="403.90" y="497.46" font-size="15.5" text-anchor="middle" fill="#1a1a1a" letter-spacing="0.5" font-weight="bold">*</text>
<line x1="355.80" y1="667.50" x2="355.80" y2="778.30" stroke="#1a1a1a" stroke-width="1.3" />
<line x1="355.80" y1="778.30" x2="424.50" y2="778.30" stroke="#1a1a1a" stroke-width="1.3" />
<line x1="355.80" y1="778.30" x2="359.40" y2="778.30" stroke="#1a1a1a" stroke-width="1.3" />
<text x="348.80" y="782.10" font-size="11" text-anchor="end" fill="#1a1a1a" >0</text>
<line x1="355.80" y1="751.80" x2="359.40" y2="751.80" stroke="#1a1a1a" stroke-width="1.3" />
<text x="348.80" y="755.60" font-size="11" text-anchor="end" fill="#1a1a1a" >5</text>
<line x1="355.80" y1="725.30" x2="359.40" y2="725.30" stroke="#1a1a1a" stroke-width="1.3" />
<text x="348.80" y="729.10" font-size="11" text-anchor="end" fill="#1a1a1a" >10</text>
<line x1="355.80" y1="698.80" x2="359.40" y2="698.80" stroke="#1a1a1a" stroke-width="1.3" />
<text x="348.80" y="702.60" font-size="11" text-anchor="end" fill="#1a1a1a" >15</text>
<line x1="355.80" y1="672.30" x2="359.40" y2="672.30" stroke="#1a1a1a" stroke-width="1.3" />
<text x="348.80" y="676.10" font-size="11" text-anchor="end" fill="#1a1a1a" >20</text>
<rect x="365.8" y="707.8" width="18.8" height="70.5" fill="none" stroke="#7d90e2" stroke-width="1.5"/>
<circle cx="372.7" cy="688.2" r="1.75" fill="none" stroke="#7d90e2" stroke-width="1"/>
<circle cx="377.7" cy="688.2" r="1.75" fill="none" stroke="#7d90e2" stroke-width="1"/>
<circle cx="368.2" cy="693.5" r="1.75" fill="none" stroke="#7d90e2" stroke-width="1"/>
<circle cx="375.2" cy="693.5" r="1.75" fill="none" stroke="#7d90e2" stroke-width="1"/>
<circle cx="382.2" cy="693.5" r="1.75" fill="none" stroke="#7d90e2" stroke-width="1"/>
<circle cx="367.7" cy="698.8" r="1.75" fill="none" stroke="#7d90e2" stroke-width="1"/>
<circle cx="372.7" cy="698.8" r="1.75" fill="none" stroke="#7d90e2" stroke-width="1"/>
<circle cx="377.7" cy="698.8" r="1.75" fill="none" stroke="#7d90e2" stroke-width="1"/>
<circle cx="382.7" cy="698.8" r="1.75" fill="none" stroke="#7d90e2" stroke-width="1"/>
<circle cx="367.7" cy="704.1" r="1.75" fill="none" stroke="#7d90e2" stroke-width="1"/>
<circle cx="372.7" cy="704.1" r="1.75" fill="none" stroke="#7d90e2" stroke-width="1"/>
<circle cx="377.7" cy="704.1" r="1.75" fill="none" stroke="#7d90e2" stroke-width="1"/>
<circle cx="382.7" cy="704.1" r="1.75" fill="none" stroke="#7d90e2" stroke-width="1"/>
<circle cx="366.5" cy="709.4" r="1.75" fill="none" stroke="#7d90e2" stroke-width="1"/>
<circle cx="370.0" cy="709.4" r="1.75" fill="none" stroke="#7d90e2" stroke-width="1"/>
<circle cx="373.5" cy="709.4" r="1.75" fill="none" stroke="#7d90e2" stroke-width="1"/>
<circle cx="377.0" cy="709.4" r="1.75" fill="none" stroke="#7d90e2" stroke-width="1"/>
<circle cx="380.5" cy="709.4" r="1.75" fill="none" stroke="#7d90e2" stroke-width="1"/>
<circle cx="384.0" cy="709.4" r="1.75" fill="none" stroke="#7d90e2" stroke-width="1"/>
<circle cx="375.2" cy="714.7" r="1.75" fill="none" stroke="#7d90e2" stroke-width="1"/>
<circle cx="371.7" cy="720.0" r="1.75" fill="none" stroke="#7d90e2" stroke-width="1"/>
<circle cx="378.7" cy="720.0" r="1.75" fill="none" stroke="#7d90e2" stroke-width="1"/>
<circle cx="368.2" cy="725.3" r="1.75" fill="none" stroke="#7d90e2" stroke-width="1"/>
<circle cx="375.2" cy="725.3" r="1.75" fill="none" stroke="#7d90e2" stroke-width="1"/>
<circle cx="382.2" cy="725.3" r="1.75" fill="none" stroke="#7d90e2" stroke-width="1"/>
<circle cx="375.2" cy="735.9" r="1.75" fill="none" stroke="#7d90e2" stroke-width="1"/>
<rect x="394.9" y="684.0" width="18.3" height="94.3" fill="none" stroke="#dc3b6f" stroke-width="1.5"/>
<circle cx="404.0" cy="667.0" r="1.75" fill="none" stroke="#dc3b6f" stroke-width="1"/>
<circle cx="398.8" cy="677.6" r="1.75" fill="none" stroke="#dc3b6f" stroke-width="1"/>
<circle cx="402.3" cy="677.6" r="1.75" fill="none" stroke="#dc3b6f" stroke-width="1"/>
<circle cx="405.8" cy="677.6" r="1.75" fill="none" stroke="#dc3b6f" stroke-width="1"/>
<circle cx="409.3" cy="677.6" r="1.75" fill="none" stroke="#dc3b6f" stroke-width="1"/>
<circle cx="395.3" cy="682.9" r="1.75" fill="none" stroke="#dc3b6f" stroke-width="1"/>
<circle cx="398.8" cy="682.9" r="1.75" fill="none" stroke="#dc3b6f" stroke-width="1"/>
<circle cx="402.3" cy="682.9" r="1.75" fill="none" stroke="#dc3b6f" stroke-width="1"/>
<circle cx="405.8" cy="682.9" r="1.75" fill="none" stroke="#dc3b6f" stroke-width="1"/>
<circle cx="409.3" cy="682.9" r="1.75" fill="none" stroke="#dc3b6f" stroke-width="1"/>
<circle cx="412.8" cy="682.9" r="1.75" fill="none" stroke="#dc3b6f" stroke-width="1"/>
<circle cx="401.0" cy="682.9" r="1.75" fill="none" stroke="#dc3b6f" stroke-width="1"/>
<circle cx="403.0" cy="682.9" r="1.75" fill="none" stroke="#dc3b6f" stroke-width="1"/>
<circle cx="405.0" cy="682.9" r="1.75" fill="none" stroke="#dc3b6f" stroke-width="1"/>
<circle cx="407.0" cy="682.9" r="1.75" fill="none" stroke="#dc3b6f" stroke-width="1"/>
<circle cx="400.5" cy="688.2" r="1.75" fill="none" stroke="#dc3b6f" stroke-width="1"/>
<circle cx="404.0" cy="688.2" r="1.75" fill="none" stroke="#dc3b6f" stroke-width="1"/>
<circle cx="407.5" cy="688.2" r="1.75" fill="none" stroke="#dc3b6f" stroke-width="1"/>
<circle cx="398.8" cy="693.5" r="1.75" fill="none" stroke="#dc3b6f" stroke-width="1"/>
<circle cx="402.3" cy="693.5" r="1.75" fill="none" stroke="#dc3b6f" stroke-width="1"/>
<circle cx="405.8" cy="693.5" r="1.75" fill="none" stroke="#dc3b6f" stroke-width="1"/>
<circle cx="409.3" cy="693.5" r="1.75" fill="none" stroke="#dc3b6f" stroke-width="1"/>
<circle cx="404.0" cy="709.4" r="1.75" fill="none" stroke="#dc3b6f" stroke-width="1"/>
<text x="0.00" y="0.00" font-size="11.1" text-anchor="middle" fill="#1a1a1a" transform="translate(330.5,725.6) rotate(-90)"># of Synapic Ribbon per IHC</text>
<text x="0.00" y="0.00" font-size="10.5" text-anchor="end" fill="#1a1a1a" transform="translate(377,789) rotate(-30)">PND14</text>
<text x="0.00" y="0.00" font-size="10.5" text-anchor="end" fill="#1a1a1a" transform="translate(411,792.5) rotate(-30)">Treatment_</text>
<text x="0.00" y="0.00" font-size="10.5" text-anchor="end" fill="#1a1a1a" transform="translate(407.5,809) rotate(-30)">PND14</text>
<text x="405.30" y="664.26" font-size="15.5" text-anchor="middle" fill="#1a1a1a" letter-spacing="0.5" font-weight="bold">***</text>
<text x="441.40" y="456.60" font-size="14.5" text-anchor="start" fill="#1a1a1a" >I</text>
<rect x="511.8" y="481.3" width="153.8" height="18.6" fill="#e1e1e1"/>
<rect x="511.8" y="481.3" width="14" height="18.6" fill="#e4e4e4"/>
<g filter="url(#b1)">
<rect x="528.6" y="485.6" width="8.0" height="6.6" rx="2" fill="#000" opacity="0.14"/>
<rect x="528.6" y="487.1" width="8.0" height="2.6" rx="1.3" fill="#000" opacity="0.75"/>
<rect x="541.2" y="486.1" width="6.0" height="6.0" rx="2" fill="#000" opacity="0.02"/>
<rect x="541.2" y="487.6" width="6.0" height="2.0" rx="1.0" fill="#000" opacity="0.12"/>
<rect x="551.2" y="484.6" width="10.0" height="9.5" rx="2" fill="#000" opacity="0.18"/>
<rect x="551.2" y="486.1" width="10.0" height="5.5" rx="2.8" fill="#000" opacity="1"/>
<rect x="572.7" y="485.9" width="7.0" height="6.4" rx="2" fill="#000" opacity="0.10"/>
<rect x="572.7" y="487.4" width="7.0" height="2.4" rx="1.2" fill="#000" opacity="0.55"/>
<rect x="584.7" y="485.9" width="7.0" height="6.4" rx="2" fill="#000" opacity="0.11"/>
<rect x="584.7" y="487.4" width="7.0" height="2.4" rx="1.2" fill="#000" opacity="0.6"/>
<rect x="594.9" y="484.1" width="9.5" height="10.0" rx="2" fill="#000" opacity="0.18"/>
<rect x="594.9" y="485.6" width="9.5" height="6.0" rx="3.0" fill="#000" opacity="1"/>
<rect x="617.1" y="485.7" width="7.0" height="6.4" rx="2" fill="#000" opacity="0.10"/>
<rect x="617.1" y="487.2" width="7.0" height="2.4" rx="1.2" fill="#000" opacity="0.55"/>
<rect x="629.6" y="486.1" width="6.0" height="6.0" rx="2" fill="#000" opacity="0.04"/>
<rect x="629.6" y="487.6" width="6.0" height="2.0" rx="1.0" fill="#000" opacity="0.25"/>
<rect x="639.6" y="484.4" width="9.5" height="9.5" rx="2" fill="#000" opacity="0.18"/>
<rect x="639.6" y="485.9" width="9.5" height="5.5" rx="2.8" fill="#000" opacity="1"/>
</g>
<rect x="511.8" y="481.3" width="153.8" height="18.6" fill="none" stroke="#0a0a0a" stroke-width="1.7"/>
<rect x="511.8" y="511.5" width="153.8" height="19.2" fill="#e1e1e1"/>
<rect x="511.8" y="511.5" width="14" height="19.2" fill="#e4e4e4"/>
<g filter="url(#b1)">
<rect x="526.7" y="514.9" width="11.8" height="9.6" rx="2" fill="#000" opacity="0.18"/>
<rect x="526.7" y="516.4" width="11.8" height="5.6" rx="2.8" fill="#000" opacity="1"/>
<rect x="538.3" y="514.9" width="11.8" height="9.6" rx="2" fill="#000" opacity="0.18"/>
<rect x="538.3" y="516.4" width="11.8" height="5.6" rx="2.8" fill="#000" opacity="1"/>
<rect x="550.3" y="514.9" width="11.8" height="9.6" rx="2" fill="#000" opacity="0.18"/>
<rect x="550.3" y="516.4" width="11.8" height="5.6" rx="2.8" fill="#000" opacity="1"/>
<rect x="570.3" y="514.9" width="11.8" height="9.6" rx="2" fill="#000" opacity="0.18"/>
<rect x="570.3" y="516.4" width="11.8" height="5.6" rx="2.8" fill="#000" opacity="1"/>
<rect x="582.3" y="514.9" width="11.8" height="9.6" rx="2" fill="#000" opacity="0.18"/>
<rect x="582.3" y="516.4" width="11.8" height="5.6" rx="2.8" fill="#000" opacity="1"/>
<rect x="593.7" y="514.9" width="11.8" height="9.6" rx="2" fill="#000" opacity="0.18"/>
<rect x="593.7" y="516.4" width="11.8" height="5.6" rx="2.8" fill="#000" opacity="1"/>
<rect x="614.7" y="514.9" width="11.8" height="9.6" rx="2" fill="#000" opacity="0.18"/>
<rect x="614.7" y="516.4" width="11.8" height="5.6" rx="2.8" fill="#000" opacity="1"/>
<rect x="626.7" y="514.9" width="11.8" height="9.6" rx="2" fill="#000" opacity="0.18"/>
<rect x="626.7" y="516.4" width="11.8" height="5.6" rx="2.8" fill="#000" opacity="1"/>
<rect x="638.5" y="514.9" width="11.8" height="9.6" rx="2" fill="#000" opacity="0.18"/>
<rect x="638.5" y="516.4" width="11.8" height="5.6" rx="2.8" fill="#000" opacity="1"/>
</g>
<rect x="511.8" y="511.5" width="153.8" height="19.2" fill="none" stroke="#0a0a0a" stroke-width="1.7"/>
<rect x="511.8" y="542" width="153.8" height="18.9" fill="#e1e1e1"/>
<rect x="511.8" y="542" width="14" height="18.9" fill="#e4e4e4"/>
<g filter="url(#b1)">
<rect x="526.9" y="544.9" width="11.4" height="11.2" rx="2" fill="#000" opacity="0.18"/>
<rect x="526.9" y="546.4" width="11.4" height="7.2" rx="3.0" fill="#000" opacity="1"/>
<rect x="538.5" y="544.9" width="11.4" height="11.2" rx="2" fill="#000" opacity="0.18"/>
<rect x="538.5" y="546.4" width="11.4" height="7.2" rx="3.0" fill="#000" opacity="1"/>
<rect x="550.5" y="544.9" width="11.4" height="11.2" rx="2" fill="#000" opacity="0.18"/>
<rect x="550.5" y="546.4" width="11.4" height="7.2" rx="3.0" fill="#000" opacity="1"/>
<rect x="570.5" y="544.9" width="11.4" height="11.2" rx="2" fill="#000" opacity="0.18"/>
<rect x="570.5" y="546.4" width="11.4" height="7.2" rx="3.0" fill="#000" opacity="1"/>
<rect x="582.5" y="544.9" width="11.4" height="11.2" rx="2" fill="#000" opacity="0.18"/>
<rect x="582.5" y="546.4" width="11.4" height="7.2" rx="3.0" fill="#000" opacity="1"/>
<rect x="593.9" y="544.9" width="11.4" height="11.2" rx="2" fill="#000" opacity="0.18"/>
<rect x="593.9" y="546.4" width="11.4" height="7.2" rx="3.0" fill="#000" opacity="1"/>
<rect x="614.9" y="544.9" width="11.4" height="11.2" rx="2" fill="#000" opacity="0.18"/>
<rect x="614.9" y="546.4" width="11.4" height="7.2" rx="3.0" fill="#000" opacity="1"/>
<rect x="626.9" y="544.9" width="11.4" height="11.2" rx="2" fill="#000" opacity="0.18"/>
<rect x="626.9" y="546.4" width="11.4" height="7.2" rx="3.0" fill="#000" opacity="1"/>
<rect x="638.7" y="544.9" width="11.4" height="11.2" rx="2" fill="#000" opacity="0.18"/>
<rect x="638.7" y="546.4" width="11.4" height="7.2" rx="3.0" fill="#000" opacity="1"/>
</g>
<rect x="511.8" y="542" width="153.8" height="18.9" fill="none" stroke="#0a0a0a" stroke-width="1.7"/>
<rect x="511.8" y="602.8" width="153.8" height="19.0" fill="#e1e1e1"/>
<rect x="511.8" y="602.8" width="14" height="19.0" fill="#e4e4e4"/>
<g filter="url(#b1)">
<rect x="527.9" y="607.9" width="9.5" height="7.8" rx="2" fill="#000" opacity="0.17"/>
<rect x="527.9" y="609.4" width="9.5" height="3.8" rx="1.9" fill="#000" opacity="0.95"/>
<rect x="538.7" y="607.2" width="11.0" height="9.0" rx="2" fill="#000" opacity="0.18"/>
<rect x="538.7" y="608.7" width="11.0" height="5.0" rx="2.5" fill="#000" opacity="1"/>
<rect x="551.7" y="608.7" width="9.0" height="7.2" rx="2" fill="#000" opacity="0.10"/>
<rect x="551.7" y="610.2" width="9.0" height="3.2" rx="1.6" fill="#000" opacity="0.55"/>
<rect x="571.2" y="607.8" width="10.0" height="8.0" rx="2" fill="#000" opacity="0.17"/>
<rect x="571.2" y="609.3" width="10.0" height="4.0" rx="2.0" fill="#000" opacity="0.95"/>
<rect x="582.7" y="606.8" width="11.0" height="9.0" rx="2" fill="#000" opacity="0.18"/>
<rect x="582.7" y="608.3" width="11.0" height="5.0" rx="2.5" fill="#000" opacity="1"/>
<rect x="582.7" y="614.4" width="11.0" height="9.0" rx="2" fill="#000" opacity="0.18"/>
<rect x="582.7" y="615.9" width="11.0" height="5.0" rx="2.5" fill="#000" opacity="1"/>
<rect x="594.9" y="607.8" width="9.5" height="8.0" rx="2" fill="#000" opacity="0.16"/>
<rect x="594.9" y="609.3" width="9.5" height="4.0" rx="2.0" fill="#000" opacity="0.9"/>
<rect x="615.9" y="607.8" width="9.5" height="8.0" rx="2" fill="#000" opacity="0.16"/>
<rect x="615.9" y="609.3" width="9.5" height="4.0" rx="2.0" fill="#000" opacity="0.9"/>
<rect x="627.6" y="607.5" width="10.0" height="8.0" rx="2" fill="#000" opacity="0.15"/>
<rect x="627.6" y="609.0" width="10.0" height="4.0" rx="2.0" fill="#000" opacity="0.85"/>
<rect x="628.6" y="614.0" width="8.0" height="6.6" rx="2" fill="#000" opacity="0.06"/>
<rect x="628.6" y="615.5" width="8.0" height="2.6" rx="1.3" fill="#000" opacity="0.35"/>
<rect x="639.9" y="607.8" width="9.0" height="8.0" rx="2" fill="#000" opacity="0.14"/>
<rect x="639.9" y="609.3" width="9.0" height="4.0" rx="2.0" fill="#000" opacity="0.8"/>
</g>
<rect x="511.8" y="602.8" width="153.8" height="19.0" fill="none" stroke="#0a0a0a" stroke-width="1.7"/>
<rect x="511.8" y="642.3" width="153.8" height="19.1" fill="#e1e1e1"/>
<rect x="511.8" y="642.3" width="14" height="19.1" fill="#e4e4e4"/>
<g filter="url(#b1)">
<rect x="527.9" y="646.9" width="9.5" height="8.0" rx="2" fill="#000" opacity="0.17"/>
<rect x="527.9" y="648.4" width="9.5" height="4.0" rx="2.0" fill="#000" opacity="0.95"/>
<rect x="539.2" y="647.5" width="10.0" height="8.0" rx="2" fill="#000" opacity="0.16"/>
<rect x="539.2" y="649.0" width="10.0" height="4.0" rx="2.0" fill="#000" opacity="0.9"/>
<rect x="551.7" y="647.1" width="9.0" height="8.0" rx="2" fill="#000" opacity="0.17"/>
<rect x="551.7" y="648.6" width="9.0" height="4.0" rx="2.0" fill="#000" opacity="0.95"/>
<rect x="571.2" y="646.6" width="10.0" height="8.5" rx="2" fill="#000" opacity="0.18"/>
<rect x="571.2" y="648.1" width="10.0" height="4.5" rx="2.2" fill="#000" opacity="1"/>
<rect x="583.7" y="647.8" width="9.0" height="7.0" rx="2" fill="#000" opacity="0.10"/>
<rect x="583.7" y="649.3" width="9.0" height="3.0" rx="1.5" fill="#000" opacity="0.55"/>
<rect x="595.1" y="647.1" width="9.0" height="8.0" rx="2" fill="#000" opacity="0.16"/>
<rect x="595.1" y="648.6" width="9.0" height="4.0" rx="2.0" fill="#000" opacity="0.9"/>
<rect x="615.6" y="645.6" width="10.0" height="8.5" rx="2" fill="#000" opacity="0.18"/>
<rect x="615.6" y="647.1" width="10.0" height="4.5" rx="2.2" fill="#000" opacity="1"/>
<rect x="628.1" y="646.6" width="9.0" height="7.0" rx="2" fill="#000" opacity="0.09"/>
<rect x="628.1" y="648.1" width="9.0" height="3.0" rx="1.5" fill="#000" opacity="0.5"/>
<rect x="639.9" y="646.1" width="9.0" height="8.0" rx="2" fill="#000" opacity="0.17"/>
<rect x="639.9" y="647.6" width="9.0" height="4.0" rx="2.0" fill="#000" opacity="0.95"/>
</g>
<rect x="511.8" y="642.3" width="153.8" height="19.1" fill="none" stroke="#0a0a0a" stroke-width="1.7"/>
<text transform="translate(527.9,481.8) rotate(-45)" font-size="9.4" fill="#2ebfd5">WT</text>
<text transform="translate(541.0,481.8) rotate(-45)" font-size="9.4" fill="#f5821f">Noise</text>
<text transform="translate(558.1,481.8) rotate(-45)" font-size="9.4" fill="#9a5f55">Noise+FA</text>
<text transform="translate(571.2,481.8) rotate(-45)" font-size="9.4" fill="#2ebfd5">WT</text>
<text transform="translate(584.4,481.8) rotate(-45)" font-size="9.4" fill="#f5821f">Noise</text>
<text transform="translate(601.5,481.8) rotate(-45)" font-size="9.4" fill="#9a5f55">Noise+FA</text>
<text transform="translate(619.9,481.8) rotate(-45)" font-size="9.4" fill="#2ebfd5">WT</text>
<text transform="translate(633.0,481.8) rotate(-45)" font-size="9.4" fill="#f5821f">Noise</text>
<text transform="translate(650.1,481.8) rotate(-45)" font-size="9.4" fill="#9a5f55">Noise+FA</text>
<text transform="translate(526.6,601.5) rotate(-45)" font-size="9.4" fill="#2ebfd5">WT</text>
<text transform="translate(539.7,601.5) rotate(-45)" font-size="9.4" fill="#f5821f">Noise</text>
<text transform="translate(556.8,601.5) rotate(-45)" font-size="9.4" fill="#9a5f55">Noise+FA</text>
<text transform="translate(569.9,601.5) rotate(-45)" font-size="9.4" fill="#2ebfd5">WT</text>
<text transform="translate(583.1,601.5) rotate(-45)" font-size="9.4" fill="#f5821f">Noise</text>
<text transform="translate(600.2,601.5) rotate(-45)" font-size="9.4" fill="#9a5f55">Noise+FA</text>
<text transform="translate(618.6,601.5) rotate(-45)" font-size="9.4" fill="#2ebfd5">WT</text>
<text transform="translate(631.7,601.5) rotate(-45)" font-size="9.4" fill="#f5821f">Noise</text>
<text transform="translate(648.8,601.5) rotate(-45)" font-size="9.4" fill="#9a5f55">Noise+FA</text>
<text x="465.80" y="485.50" font-size="10.1" text-anchor="start" fill="#1a1a1a" >PARP1</text>
<text x="465.80" y="496.00" font-size="10.1" text-anchor="start" fill="#1a1a1a" >116 kDa</text>
<text x="465.80" y="512.60" font-size="10.1" text-anchor="start" fill="#1a1a1a" >γ-H2A.X</text>
<text x="465.80" y="525.00" font-size="10.1" text-anchor="start" fill="#1a1a1a" >15 kDa</text>
<text x="465.80" y="544.80" font-size="10.1" text-anchor="start" fill="#1a1a1a" >β-actin</text>
<text x="465.80" y="557.40" font-size="10.1" text-anchor="start" fill="#1a1a1a" >43 kDa</text>
<text x="465.80" y="615.30" font-size="10.1" text-anchor="start" fill="#1a1a1a" >γ-H2A.X</text>
<text x="465.80" y="628.60" font-size="10.1" text-anchor="start" fill="#1a1a1a" >15 kDa</text>
<text x="465.80" y="647.50" font-size="10.1" text-anchor="start" fill="#1a1a1a" >β-actin</text>
<text x="465.80" y="660.10" font-size="10.1" text-anchor="start" fill="#1a1a1a" >43 kDa</text>
<line x1="460.40" y1="483.80" x2="460.40" y2="490.00" stroke="#111" stroke-width="1.3" />
<line x1="460.40" y1="502.20" x2="460.40" y2="512.70" stroke="#111" stroke-width="1.3" />
<line x1="460.40" y1="526.70" x2="460.40" y2="537.20" stroke="#111" stroke-width="1.3" />
<line x1="460.40" y1="550.00" x2="460.40" y2="556.50" stroke="#111" stroke-width="1.3" />
<line x1="460.40" y1="602.90" x2="460.40" y2="610.00" stroke="#111" stroke-width="1.3" />
<line x1="460.40" y1="624.40" x2="460.40" y2="633.30" stroke="#111" stroke-width="1.3" />
<line x1="460.40" y1="649.40" x2="460.40" y2="657.30" stroke="#111" stroke-width="1.3" />
<line x1="460.40" y1="670.90" x2="460.40" y2="676.20" stroke="#111" stroke-width="1.3" />
<text x="0.00" y="0.00" font-size="15" text-anchor="middle" fill="#1a1a1a" transform="translate(452.8,522.7) rotate(-90)">8h</text>
<text x="0.00" y="0.00" font-size="15" text-anchor="middle" fill="#1a1a1a" transform="translate(455.4,639.2) rotate(-90)">24h</text>
<text x="441.00" y="691.80" font-size="16" text-anchor="start" fill="#1a1a1a" >J</text>
<text x="537.30" y="688.80" font-size="15" text-anchor="middle" fill="#1a1a1a" >8h</text>
<text x="632.40" y="688.80" font-size="15" text-anchor="middle" fill="#1a1a1a" >24h</text>
<line x1="499.00" y1="704.00" x2="499.00" y2="807.30" stroke="#1a1a1a" stroke-width="1.5" />
<line x1="498.30" y1="807.30" x2="602.30" y2="807.30" stroke="#1a1a1a" stroke-width="1.5" />
<line x1="499.00" y1="807.30" x2="502.00" y2="807.30" stroke="#1a1a1a" stroke-width="1.3" />
<text x="496.60" y="811.60" font-size="12" text-anchor="end" fill="#1a1a1a" >0.0</text>
<line x1="499.00" y1="781.55" x2="502.00" y2="781.55" stroke="#1a1a1a" stroke-width="1.3" />
<text x="496.60" y="785.85" font-size="12" text-anchor="end" fill="#1a1a1a" >1.0</text>
<line x1="499.00" y1="755.80" x2="502.00" y2="755.80" stroke="#1a1a1a" stroke-width="1.3" />
<text x="496.60" y="760.10" font-size="12" text-anchor="end" fill="#1a1a1a" >2.0</text>
<line x1="499.00" y1="730.05" x2="502.00" y2="730.05" stroke="#1a1a1a" stroke-width="1.3" />
<text x="496.60" y="734.35" font-size="12" text-anchor="end" fill="#1a1a1a" >3.0</text>
<line x1="499.00" y1="704.30" x2="502.00" y2="704.30" stroke="#1a1a1a" stroke-width="1.3" />
<text x="496.60" y="708.60" font-size="12" text-anchor="end" fill="#1a1a1a" >4.0</text>
<line x1="612.60" y1="703.60" x2="612.60" y2="807.30" stroke="#1a1a1a" stroke-width="1.5" />
<line x1="611.90" y1="807.30" x2="666.80" y2="807.30" stroke="#1a1a1a" stroke-width="1.5" />
<line x1="612.60" y1="781.55" x2="615.00" y2="781.55" stroke="#1a1a1a" stroke-width="1.3" />
<line x1="612.60" y1="755.80" x2="615.00" y2="755.80" stroke="#1a1a1a" stroke-width="1.3" />
<line x1="612.60" y1="730.05" x2="615.00" y2="730.05" stroke="#1a1a1a" stroke-width="1.3" />
<line x1="612.60" y1="704.30" x2="615.00" y2="704.30" stroke="#1a1a1a" stroke-width="1.3" />
<rect x="504.2" y="781.5" width="8.8" height="25.8" fill="none" stroke="#2ebfd5" stroke-width="1.3"/>
<g stroke="#2ebfd5" stroke-width="1.3"><line x1="508.6" y1="775.9" x2="508.6" y2="787.2"/><line x1="506.1" y1="775.9" x2="511.1" y2="775.9"/><line x1="506.1" y1="787.2" x2="511.1" y2="787.2"/></g>
<circle cx="508.6" cy="771.2" r="2" fill="none" stroke="#2ebfd5" stroke-width="1.3"/>
<circle cx="508.6" cy="782.8" r="2" fill="none" stroke="#2ebfd5" stroke-width="1.3"/>
<circle cx="508.6" cy="790.6" r="2" fill="none" stroke="#2ebfd5" stroke-width="1.3"/>
<rect x="518.4" y="797.0" width="9.2" height="10.3" fill="none" stroke="#f5821f" stroke-width="1.3"/>
<g stroke="#f5821f" stroke-width="1.3"><line x1="523.0" y1="790.8" x2="523.0" y2="803.2"/><line x1="520.5" y1="790.8" x2="525.5" y2="790.8"/><line x1="520.5" y1="803.2" x2="525.5" y2="803.2"/></g>
<circle cx="523.0" cy="784.6" r="2" fill="none" stroke="#f5821f" stroke-width="1.3"/>
<circle cx="523.0" cy="799.6" r="2" fill="none" stroke="#f5821f" stroke-width="1.3"/>
<circle cx="523.0" cy="804.7" r="2" fill="none" stroke="#f5821f" stroke-width="1.3"/>
<rect x="533.8" y="719.8" width="8.7" height="87.5" fill="none" stroke="#9a5f55" stroke-width="1.3"/>
<g stroke="#9a5f55" stroke-width="1.3"><line x1="538.1" y1="712.5" x2="538.1" y2="727.0"/><line x1="535.6" y1="712.5" x2="540.6" y2="712.5"/><line x1="535.6" y1="727.0" x2="540.6" y2="727.0"/></g>
<circle cx="538.1" cy="706.4" r="2" fill="none" stroke="#9a5f55" stroke-width="1.3"/>
<circle cx="538.1" cy="722.3" r="2" fill="none" stroke="#9a5f55" stroke-width="1.3"/>
<circle cx="538.1" cy="730.0" r="2" fill="none" stroke="#9a5f55" stroke-width="1.3"/>
<rect x="558.0" y="781.5" width="9.7" height="25.8" fill="none" stroke="#2ebfd5" stroke-width="1.3"/>
<g stroke="#2ebfd5" stroke-width="1.3"><line x1="562.9" y1="778.5" x2="562.9" y2="784.6"/><line x1="560.4" y1="778.5" x2="565.4" y2="778.5"/><line x1="560.4" y1="784.6" x2="565.4" y2="784.6"/></g>
<circle cx="562.9" cy="777.7" r="2" fill="none" stroke="#2ebfd5" stroke-width="1.3"/>
<circle cx="562.9" cy="782.8" r="2" fill="none" stroke="#2ebfd5" stroke-width="1.3"/>
<circle cx="562.9" cy="785.4" r="2" fill="none" stroke="#2ebfd5" stroke-width="1.3"/>
<rect x="572.4" y="777.2" width="9.9" height="30.1" fill="none" stroke="#f5821f" stroke-width="1.3"/>
<g stroke="#f5821f" stroke-width="1.3"><line x1="577.3" y1="773.1" x2="577.3" y2="781.3"/><line x1="574.8" y1="773.1" x2="579.8" y2="773.1"/><line x1="574.8" y1="781.3" x2="579.8" y2="781.3"/></g>
<circle cx="575.3" cy="773.8" r="2" fill="none" stroke="#f5821f" stroke-width="1.3"/>
<circle cx="579.3" cy="773.3" r="2" fill="none" stroke="#f5821f" stroke-width="1.3"/>
<circle cx="577.3" cy="781.5" r="2" fill="none" stroke="#f5821f" stroke-width="1.3"/>
<rect x="587.4" y="779.0" width="9.6" height="28.3" fill="none" stroke="#9a5f55" stroke-width="1.3"/>
<g stroke="#9a5f55" stroke-width="1.3"><line x1="592.2" y1="778.2" x2="592.2" y2="779.7"/><line x1="589.7" y1="778.2" x2="594.7" y2="778.2"/><line x1="589.7" y1="779.7" x2="594.7" y2="779.7"/></g>
<circle cx="590.2" cy="779.0" r="2" fill="none" stroke="#9a5f55" stroke-width="1.3"/>
<circle cx="592.2" cy="778.2" r="2" fill="none" stroke="#9a5f55" stroke-width="1.3"/>
<circle cx="594.2" cy="777.7" r="2" fill="none" stroke="#9a5f55" stroke-width="1.3"/>
<rect x="617.5" y="781.5" width="10.6" height="25.8" fill="none" stroke="#2ebfd5" stroke-width="1.3"/>
<g stroke="#2ebfd5" stroke-width="1.3"><line x1="622.8" y1="779.0" x2="622.8" y2="784.1"/><line x1="620.3" y1="779.0" x2="625.3" y2="779.0"/><line x1="620.3" y1="784.1" x2="625.3" y2="784.1"/></g>
<circle cx="620.8" cy="777.7" r="2" fill="none" stroke="#2ebfd5" stroke-width="1.3"/>
<circle cx="624.8" cy="780.3" r="2" fill="none" stroke="#2ebfd5" stroke-width="1.3"/>
<circle cx="622.8" cy="786.2" r="2" fill="none" stroke="#2ebfd5" stroke-width="1.3"/>
<rect x="633.9" y="772.5" width="10.6" height="34.8" fill="none" stroke="#f5821f" stroke-width="1.3"/>
<g stroke="#f5821f" stroke-width="1.3"><line x1="639.2" y1="771.0" x2="639.2" y2="774.1"/><line x1="636.7" y1="771.0" x2="641.7" y2="771.0"/><line x1="636.7" y1="774.1" x2="641.7" y2="774.1"/></g>
<circle cx="636.7" cy="771.8" r="2" fill="none" stroke="#f5821f" stroke-width="1.3"/>
<circle cx="639.2" cy="768.2" r="2" fill="none" stroke="#f5821f" stroke-width="1.3"/>
<circle cx="641.7" cy="771.8" r="2" fill="none" stroke="#f5821f" stroke-width="1.3"/>
<rect x="650.3" y="778.5" width="10.6" height="28.8" fill="none" stroke="#9a5f55" stroke-width="1.3"/>
<g stroke="#9a5f55" stroke-width="1.3"><line x1="655.6" y1="777.2" x2="655.6" y2="779.7"/><line x1="653.1" y1="777.2" x2="658.1" y2="777.2"/><line x1="653.1" y1="779.7" x2="658.1" y2="779.7"/></g>
<circle cx="653.6" cy="780.3" r="2" fill="none" stroke="#9a5f55" stroke-width="1.3"/>
<circle cx="655.6" cy="778.5" r="2" fill="none" stroke="#9a5f55" stroke-width="1.3"/>
<circle cx="657.6" cy="776.9" r="2" fill="none" stroke="#9a5f55" stroke-width="1.3"/>
<text x="538.40" y="705.82" font-size="13.5" text-anchor="middle" fill="#1a1a1a" letter-spacing="0.5" font-weight="bold">**</text>
<text x="638.80" y="765.22" font-size="13.5" text-anchor="middle" fill="#1a1a1a" letter-spacing="0.5" font-weight="bold">*</text>
<text class="serif" x="524" y="772.4" font-size="9" text-anchor="middle" fill="#1a1a1a">N.S.</text>
<text class="serif" x="578.8" y="760.8" font-size="9" text-anchor="middle" fill="#1a1a1a">N.S.</text>
<text class="serif" x="657.5" y="767" font-size="9" text-anchor="middle" fill="#1a1a1a">N.S.</text>
<text x="523.20" y="820.00" font-size="11.4" text-anchor="middle" fill="#1a1a1a" >PARP1</text>
<text x="577.50" y="820.00" font-size="11.4" text-anchor="middle" fill="#1a1a1a" >γ-H2A.X</text>
<text x="644.70" y="820.00" font-size="11.4" text-anchor="middle" fill="#1a1a1a" >γ-H2A.X</text>
<text x="0.00" y="0.00" font-size="11.6" text-anchor="middle" fill="#1a1a1a" transform="translate(457.3,754) rotate(-90)">Relaxtive Protein</text>
<text x="0.00" y="0.00" font-size="11.6" text-anchor="middle" fill="#1a1a1a" transform="translate(473,754.8) rotate(-90)">expression level</text>
</svg>
</body></html>
